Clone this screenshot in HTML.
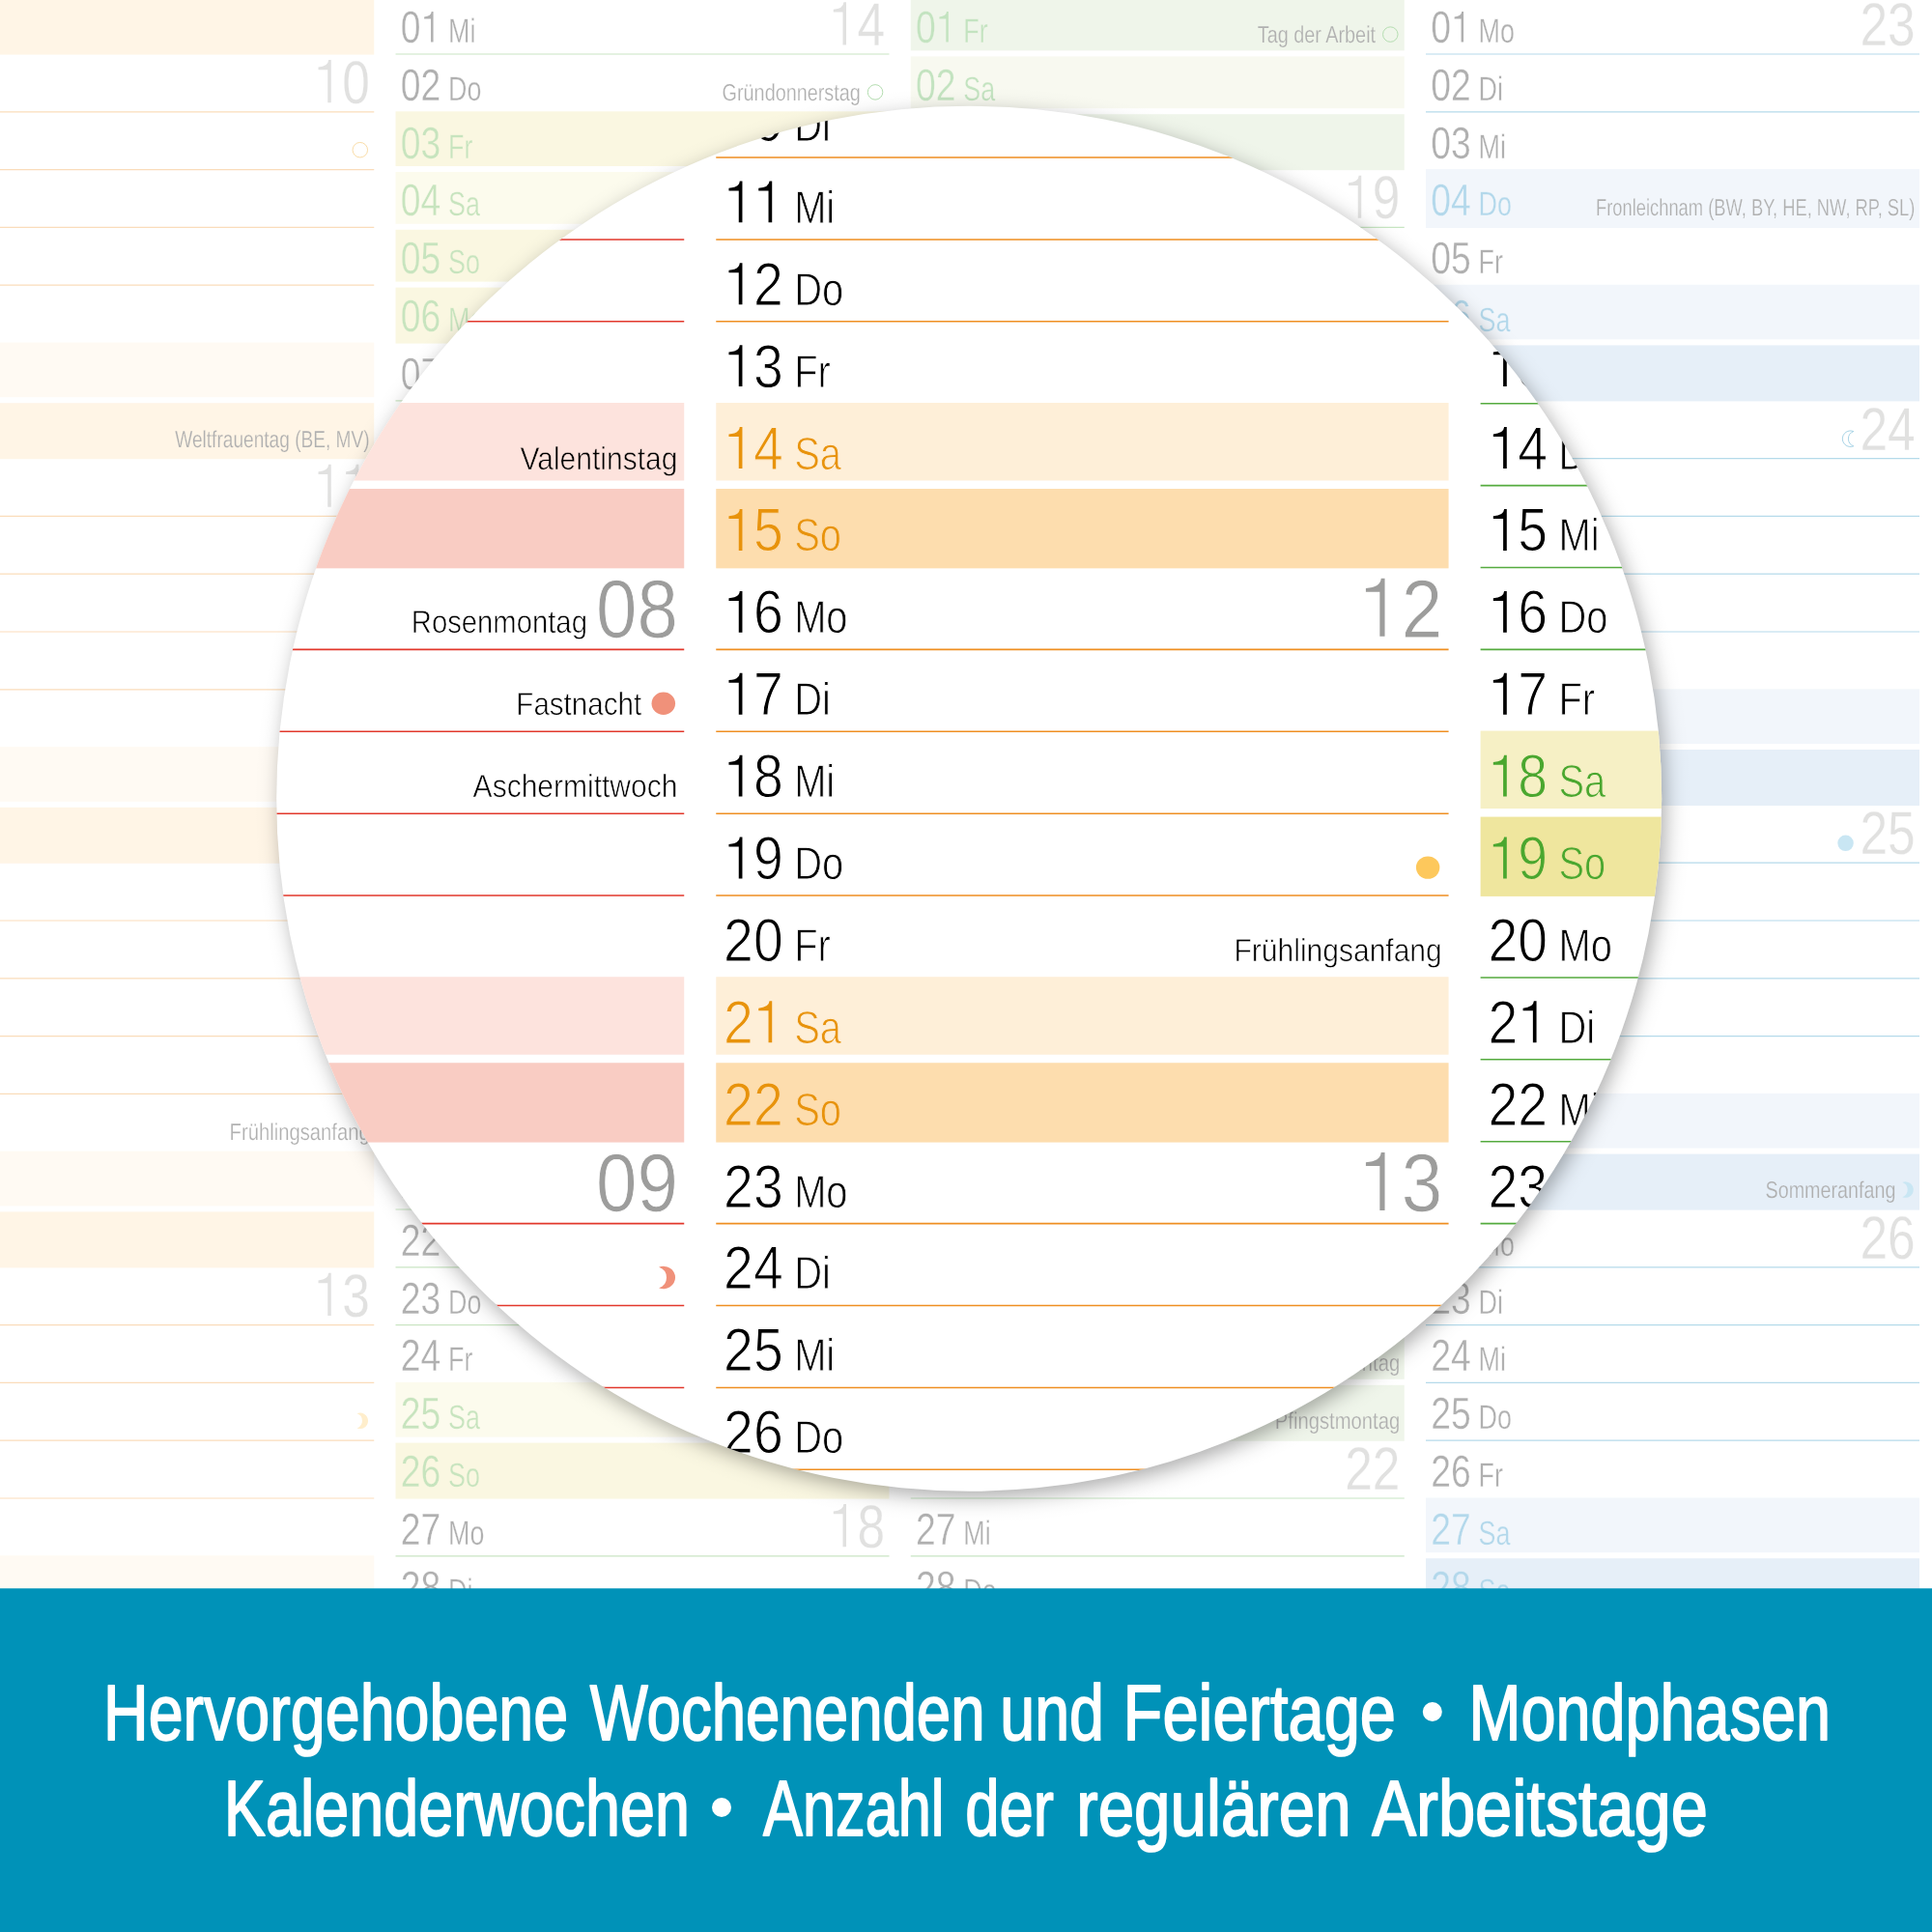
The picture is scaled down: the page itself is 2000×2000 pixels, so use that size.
<!DOCTYPE html>
<html lang="de"><head><meta charset="utf-8"><title>Kalender</title>
<style>
html,body{margin:0;padding:0;background:#fff;width:2000px;height:2000px;overflow:hidden}
svg{display:block;will-change:transform}
text{font-family:"Liberation Sans",sans-serif;text-rendering:geometricPrecision}
</style></head><body>
<svg width="2000" height="2000" viewBox="0 0 2000 2000">
<defs>
<clipPath id="lens"><circle cx="1003.2" cy="826.8" r="717"/></clipPath>
<radialGradient id="shad" cx="0.5" cy="0.5" r="0.5"><stop offset="0" stop-color="#000" stop-opacity="0.32"/><stop offset="0.8943" stop-color="#000" stop-opacity="0.3200"/><stop offset="0.9009" stop-color="#000" stop-opacity="0.3199"/><stop offset="0.9075" stop-color="#000" stop-opacity="0.3196"/><stop offset="0.9141" stop-color="#000" stop-opacity="0.3180"/><stop offset="0.9207" stop-color="#000" stop-opacity="0.3127"/><stop offset="0.9273" stop-color="#000" stop-opacity="0.2986"/><stop offset="0.9339" stop-color="#000" stop-opacity="0.2692"/><stop offset="0.9406" stop-color="#000" stop-opacity="0.2213"/><stop offset="0.9472" stop-color="#000" stop-opacity="0.1600"/><stop offset="0.9538" stop-color="#000" stop-opacity="0.0987"/><stop offset="0.9604" stop-color="#000" stop-opacity="0.0508"/><stop offset="0.9670" stop-color="#000" stop-opacity="0.0214"/><stop offset="0.9736" stop-color="#000" stop-opacity="0.0073"/><stop offset="0.9802" stop-color="#000" stop-opacity="0.0020"/><stop offset="0.9868" stop-color="#000" stop-opacity="0.0004"/><stop offset="0.9934" stop-color="#000" stop-opacity="0.0001"/><stop offset="1.0000" stop-color="#000" stop-opacity="0.0000"/></radialGradient>
</defs>
<rect width="2000" height="2000" fill="#fff"/>
<g>
<g>
<rect x="-123.75" y="-4.3" width="511" height="60.9" fill="#FDDDAE"/>
<rect x="-123.75" y="354.5" width="511" height="56.7" fill="#FEEFD8"/>
<rect x="-123.75" y="417.2" width="511" height="58" fill="#FDDDAE"/>
<rect x="-123.75" y="773.1" width="511" height="56.7" fill="#FEEFD8"/>
<rect x="-123.75" y="835.8" width="511" height="58" fill="#FDDDAE"/>
<rect x="-123.75" y="1191.7" width="511" height="56.7" fill="#FEEFD8"/>
<rect x="-123.75" y="1254.4" width="511" height="58" fill="#FDDDAE"/>
<rect x="-123.75" y="1610.3" width="511" height="56.7" fill="#FEEFD8"/>
<rect x="-123.75" y="1673" width="511" height="58" fill="#FDDDAE"/>
<path d="M-123.75 115.8h511M-123.75 175.6h511M-123.75 235.4h511M-123.75 295.2h511M-123.75 534.4h511M-123.75 594.2h511M-123.75 654h511M-123.75 713.8h511M-123.75 953h511M-123.75 1012.8h511M-123.75 1072.6h511M-123.75 1132.4h511M-123.75 1371.6h511M-123.75 1431.4h511M-123.75 1491.2h511M-123.75 1551h511" stroke="#EF8F22" stroke-width="1.2" fill="none"/>
<text transform="translate(-118.45 44) scale(0.802 1)" font-size="46.5" fill="#E8930C" stroke="#FDDDAE" stroke-width="0.36">0</text><path d="M-87.18 43.6L-84.69 43.6L-84.69 12.04L-86.52 12.04Q-86.78 16.9 -94.12 17.41L-94.12 19.4L-87.18 19.4Z" fill="#E8930C"/>
<text transform="translate(-69.25 44) scale(0.766 1)" font-size="35.11" fill="#E8930C" stroke="#FDDDAE" stroke-width="0.32">So</text>
<text transform="translate(-118.45 103.8) scale(0.802 1)" font-size="46.5" fill="#000" stroke="#fff" stroke-width="0.36">0</text><text transform="translate(-97.72 103.8) scale(0.802 1)" font-size="46.5" fill="#000" stroke="#fff" stroke-width="0.36">2</text>
<text transform="translate(-69.25 103.8) scale(0.766 1)" font-size="35.11" fill="#000" stroke="#fff" stroke-width="0.32">Mo</text>
<path d="M339.25 106.24L342.74 106.24L342.74 62.06L340.17 62.06Q339.81 68.86 329.53 69.58L329.53 72.36L339.25 72.36Z" fill="#9D9D9C"/><text transform="translate(354.35 106.8) scale(0.816 1)" font-size="63.01" fill="#9D9D9C" stroke="#fff" stroke-width="0.27">0</text>
<text transform="translate(-118.45 163.6) scale(0.802 1)" font-size="46.5" fill="#000" stroke="#fff" stroke-width="0.36">0</text><text transform="translate(-97.72 163.6) scale(0.802 1)" font-size="46.5" fill="#000" stroke="#fff" stroke-width="0.36">3</text>
<text transform="translate(-69.25 163.6) scale(0.766 1)" font-size="35.11" fill="#000" stroke="#fff" stroke-width="0.32">Di</text>
<text transform="translate(-118.45 223.4) scale(0.802 1)" font-size="46.5" fill="#000" stroke="#fff" stroke-width="0.36">0</text><text transform="translate(-97.72 223.4) scale(0.802 1)" font-size="46.5" fill="#000" stroke="#fff" stroke-width="0.36">4</text>
<text transform="translate(-69.25 223.4) scale(0.766 1)" font-size="35.11" fill="#000" stroke="#fff" stroke-width="0.32">Mi</text>
<text transform="translate(-118.45 283.2) scale(0.802 1)" font-size="46.5" fill="#000" stroke="#fff" stroke-width="0.36">0</text><text transform="translate(-97.72 283.2) scale(0.802 1)" font-size="46.5" fill="#000" stroke="#fff" stroke-width="0.36">5</text>
<text transform="translate(-69.25 283.2) scale(0.766 1)" font-size="35.11" fill="#000" stroke="#fff" stroke-width="0.32">Do</text>
<text transform="translate(-118.45 343) scale(0.802 1)" font-size="46.5" fill="#000" stroke="#fff" stroke-width="0.36">0</text><text transform="translate(-97.72 343) scale(0.802 1)" font-size="46.5" fill="#000" stroke="#fff" stroke-width="0.36">6</text>
<text transform="translate(-69.25 343) scale(0.766 1)" font-size="35.11" fill="#000" stroke="#fff" stroke-width="0.32">Fr</text>
<text transform="translate(-118.45 402.8) scale(0.802 1)" font-size="46.5" fill="#E8930C" stroke="#FEEFD8" stroke-width="0.36">0</text><text transform="translate(-97.72 402.8) scale(0.802 1)" font-size="46.5" fill="#E8930C" stroke="#FEEFD8" stroke-width="0.36">7</text>
<text transform="translate(-69.25 402.8) scale(0.766 1)" font-size="35.11" fill="#E8930C" stroke="#FEEFD8" stroke-width="0.32">Sa</text>
<text transform="translate(-118.45 462.6) scale(0.802 1)" font-size="46.5" fill="#E8930C" stroke="#FDDDAE" stroke-width="0.36">0</text><text transform="translate(-97.72 462.6) scale(0.802 1)" font-size="46.5" fill="#E8930C" stroke="#FDDDAE" stroke-width="0.36">8</text>
<text transform="translate(-69.25 462.6) scale(0.766 1)" font-size="35.11" fill="#E8930C" stroke="#FDDDAE" stroke-width="0.32">So</text>
<text transform="translate(382.65 462.6) scale(0.785 1)" font-size="24.35" fill="#000" text-anchor="end" stroke="#FDDDAE" stroke-width="0.2">Weltfrauentag (BE, MV)</text>
<text transform="translate(-118.45 522.4) scale(0.802 1)" font-size="46.5" fill="#000" stroke="#fff" stroke-width="0.36">0</text><text transform="translate(-97.72 522.4) scale(0.802 1)" font-size="46.5" fill="#000" stroke="#fff" stroke-width="0.36">9</text>
<text transform="translate(-69.25 522.4) scale(0.766 1)" font-size="35.11" fill="#000" stroke="#fff" stroke-width="0.32">Mo</text>
<path d="M339.25 524.84L342.74 524.84L342.74 480.66L340.17 480.66Q339.81 487.46 329.53 488.18L329.53 490.96L339.25 490.96Z" fill="#9D9D9C"/><path d="M367.85 524.84L371.33 524.84L371.33 480.66L368.77 480.66Q368.41 487.46 358.13 488.18L358.13 490.96L367.85 490.96Z" fill="#9D9D9C"/>
<path d="M-107.91 581.8L-105.42 581.8L-105.42 550.24L-107.25 550.24Q-107.51 555.1 -114.85 555.61L-114.85 557.6L-107.91 557.6Z" fill="#000"/><text transform="translate(-97.72 582.2) scale(0.802 1)" font-size="46.5" fill="#000" stroke="#fff" stroke-width="0.36">0</text>
<text transform="translate(-69.25 582.2) scale(0.766 1)" font-size="35.11" fill="#000" stroke="#fff" stroke-width="0.32">Di</text>
<path d="M-107.91 641.6L-105.42 641.6L-105.42 610.04L-107.25 610.04Q-107.51 614.9 -114.85 615.41L-114.85 617.4L-107.91 617.4Z" fill="#000"/><path d="M-87.18 641.6L-84.69 641.6L-84.69 610.04L-86.52 610.04Q-86.78 614.9 -94.12 615.41L-94.12 617.4L-87.18 617.4Z" fill="#000"/>
<text transform="translate(-69.25 642) scale(0.766 1)" font-size="35.11" fill="#000" stroke="#fff" stroke-width="0.32">Mi</text>
<path d="M-107.91 701.4L-105.42 701.4L-105.42 669.84L-107.25 669.84Q-107.51 674.7 -114.85 675.21L-114.85 677.2L-107.91 677.2Z" fill="#000"/><text transform="translate(-97.72 701.8) scale(0.802 1)" font-size="46.5" fill="#000" stroke="#fff" stroke-width="0.36">2</text>
<text transform="translate(-69.25 701.8) scale(0.766 1)" font-size="35.11" fill="#000" stroke="#fff" stroke-width="0.32">Do</text>
<path d="M-107.91 761.2L-105.42 761.2L-105.42 729.64L-107.25 729.64Q-107.51 734.5 -114.85 735.01L-114.85 737L-107.91 737Z" fill="#000"/><text transform="translate(-97.72 761.6) scale(0.802 1)" font-size="46.5" fill="#000" stroke="#fff" stroke-width="0.36">3</text>
<text transform="translate(-69.25 761.6) scale(0.766 1)" font-size="35.11" fill="#000" stroke="#fff" stroke-width="0.32">Fr</text>
<path d="M-107.91 821L-105.42 821L-105.42 789.44L-107.25 789.44Q-107.51 794.3 -114.85 794.81L-114.85 796.8L-107.91 796.8Z" fill="#E8930C"/><text transform="translate(-97.72 821.4) scale(0.802 1)" font-size="46.5" fill="#E8930C" stroke="#FEEFD8" stroke-width="0.36">4</text>
<text transform="translate(-69.25 821.4) scale(0.766 1)" font-size="35.11" fill="#E8930C" stroke="#FEEFD8" stroke-width="0.32">Sa</text>
<path d="M-107.91 880.8L-105.42 880.8L-105.42 849.24L-107.25 849.24Q-107.51 854.1 -114.85 854.61L-114.85 856.6L-107.91 856.6Z" fill="#E8930C"/><text transform="translate(-97.72 881.2) scale(0.802 1)" font-size="46.5" fill="#E8930C" stroke="#FDDDAE" stroke-width="0.36">5</text>
<text transform="translate(-69.25 881.2) scale(0.766 1)" font-size="35.11" fill="#E8930C" stroke="#FDDDAE" stroke-width="0.32">So</text>
<path d="M-107.91 940.6L-105.42 940.6L-105.42 909.04L-107.25 909.04Q-107.51 913.9 -114.85 914.41L-114.85 916.4L-107.91 916.4Z" fill="#000"/><text transform="translate(-97.72 941) scale(0.802 1)" font-size="46.5" fill="#000" stroke="#fff" stroke-width="0.36">6</text>
<text transform="translate(-69.25 941) scale(0.766 1)" font-size="35.11" fill="#000" stroke="#fff" stroke-width="0.32">Mo</text>
<path d="M339.25 943.44L342.74 943.44L342.74 899.26L340.17 899.26Q339.81 906.06 329.53 906.78L329.53 909.56L339.25 909.56Z" fill="#9D9D9C"/><text transform="translate(354.35 944) scale(0.816 1)" font-size="63.01" fill="#9D9D9C" stroke="#fff" stroke-width="0.27">2</text>
<path d="M-107.91 1000.4L-105.42 1000.4L-105.42 968.84L-107.25 968.84Q-107.51 973.7 -114.85 974.21L-114.85 976.2L-107.91 976.2Z" fill="#000"/><text transform="translate(-97.72 1000.8) scale(0.802 1)" font-size="46.5" fill="#000" stroke="#fff" stroke-width="0.36">7</text>
<text transform="translate(-69.25 1000.8) scale(0.766 1)" font-size="35.11" fill="#000" stroke="#fff" stroke-width="0.32">Di</text>
<path d="M-107.91 1060.2L-105.42 1060.2L-105.42 1028.64L-107.25 1028.64Q-107.51 1033.5 -114.85 1034.01L-114.85 1036L-107.91 1036Z" fill="#000"/><text transform="translate(-97.72 1060.6) scale(0.802 1)" font-size="46.5" fill="#000" stroke="#fff" stroke-width="0.36">8</text>
<text transform="translate(-69.25 1060.6) scale(0.766 1)" font-size="35.11" fill="#000" stroke="#fff" stroke-width="0.32">Mi</text>
<path d="M-107.91 1120L-105.42 1120L-105.42 1088.44L-107.25 1088.44Q-107.51 1093.3 -114.85 1093.81L-114.85 1095.8L-107.91 1095.8Z" fill="#000"/><text transform="translate(-97.72 1120.4) scale(0.802 1)" font-size="46.5" fill="#000" stroke="#fff" stroke-width="0.36">9</text>
<text transform="translate(-69.25 1120.4) scale(0.766 1)" font-size="35.11" fill="#000" stroke="#fff" stroke-width="0.32">Do</text>
<text transform="translate(-118.45 1180.2) scale(0.802 1)" font-size="46.5" fill="#000" stroke="#fff" stroke-width="0.36">2</text><text transform="translate(-97.72 1180.2) scale(0.802 1)" font-size="46.5" fill="#000" stroke="#fff" stroke-width="0.36">0</text>
<text transform="translate(-69.25 1180.2) scale(0.766 1)" font-size="35.11" fill="#000" stroke="#fff" stroke-width="0.32">Fr</text>
<text transform="translate(382.65 1180.2) scale(0.831 1)" font-size="24.35" fill="#000" text-anchor="end" stroke="#fff" stroke-width="0.2">Frühlingsanfang</text>
<text transform="translate(-118.45 1240) scale(0.802 1)" font-size="46.5" fill="#E8930C" stroke="#FEEFD8" stroke-width="0.36">2</text><path d="M-87.18 1239.6L-84.69 1239.6L-84.69 1208.04L-86.52 1208.04Q-86.78 1212.9 -94.12 1213.41L-94.12 1215.4L-87.18 1215.4Z" fill="#E8930C"/>
<text transform="translate(-69.25 1240) scale(0.766 1)" font-size="35.11" fill="#E8930C" stroke="#FEEFD8" stroke-width="0.32">Sa</text>
<text transform="translate(-118.45 1299.8) scale(0.802 1)" font-size="46.5" fill="#E8930C" stroke="#FDDDAE" stroke-width="0.36">2</text><text transform="translate(-97.72 1299.8) scale(0.802 1)" font-size="46.5" fill="#E8930C" stroke="#FDDDAE" stroke-width="0.36">2</text>
<text transform="translate(-69.25 1299.8) scale(0.766 1)" font-size="35.11" fill="#E8930C" stroke="#FDDDAE" stroke-width="0.32">So</text>
<text transform="translate(-118.45 1359.6) scale(0.802 1)" font-size="46.5" fill="#000" stroke="#fff" stroke-width="0.36">2</text><text transform="translate(-97.72 1359.6) scale(0.802 1)" font-size="46.5" fill="#000" stroke="#fff" stroke-width="0.36">3</text>
<text transform="translate(-69.25 1359.6) scale(0.766 1)" font-size="35.11" fill="#000" stroke="#fff" stroke-width="0.32">Mo</text>
<path d="M339.25 1362.04L342.74 1362.04L342.74 1317.86L340.17 1317.86Q339.81 1324.66 329.53 1325.38L329.53 1328.16L339.25 1328.16Z" fill="#9D9D9C"/><text transform="translate(354.35 1362.6) scale(0.816 1)" font-size="63.01" fill="#9D9D9C" stroke="#fff" stroke-width="0.27">3</text>
<text transform="translate(-118.45 1419.4) scale(0.802 1)" font-size="46.5" fill="#000" stroke="#fff" stroke-width="0.36">2</text><text transform="translate(-97.72 1419.4) scale(0.802 1)" font-size="46.5" fill="#000" stroke="#fff" stroke-width="0.36">4</text>
<text transform="translate(-69.25 1419.4) scale(0.766 1)" font-size="35.11" fill="#000" stroke="#fff" stroke-width="0.32">Di</text>
<text transform="translate(-118.45 1479.2) scale(0.802 1)" font-size="46.5" fill="#000" stroke="#fff" stroke-width="0.36">2</text><text transform="translate(-97.72 1479.2) scale(0.802 1)" font-size="46.5" fill="#000" stroke="#fff" stroke-width="0.36">5</text>
<text transform="translate(-69.25 1479.2) scale(0.766 1)" font-size="35.11" fill="#000" stroke="#fff" stroke-width="0.32">Mi</text>
<text transform="translate(-118.45 1539) scale(0.802 1)" font-size="46.5" fill="#000" stroke="#fff" stroke-width="0.36">2</text><text transform="translate(-97.72 1539) scale(0.802 1)" font-size="46.5" fill="#000" stroke="#fff" stroke-width="0.36">6</text>
<text transform="translate(-69.25 1539) scale(0.766 1)" font-size="35.11" fill="#000" stroke="#fff" stroke-width="0.32">Do</text>
<text transform="translate(-118.45 1598.8) scale(0.802 1)" font-size="46.5" fill="#000" stroke="#fff" stroke-width="0.36">2</text><text transform="translate(-97.72 1598.8) scale(0.802 1)" font-size="46.5" fill="#000" stroke="#fff" stroke-width="0.36">7</text>
<text transform="translate(-69.25 1598.8) scale(0.766 1)" font-size="35.11" fill="#000" stroke="#fff" stroke-width="0.32">Fr</text>
<text transform="translate(-118.45 1658.6) scale(0.802 1)" font-size="46.5" fill="#E8930C" stroke="#FEEFD8" stroke-width="0.36">2</text><text transform="translate(-97.72 1658.6) scale(0.802 1)" font-size="46.5" fill="#E8930C" stroke="#FEEFD8" stroke-width="0.36">8</text>
<text transform="translate(-69.25 1658.6) scale(0.766 1)" font-size="35.11" fill="#E8930C" stroke="#FEEFD8" stroke-width="0.32">Sa</text>
<text transform="translate(-118.45 1718.4) scale(0.802 1)" font-size="46.5" fill="#E8930C" stroke="#FDDDAE" stroke-width="0.36">2</text><text transform="translate(-97.72 1718.4) scale(0.802 1)" font-size="46.5" fill="#E8930C" stroke="#FDDDAE" stroke-width="0.36">9</text>
<text transform="translate(-69.25 1718.4) scale(0.766 1)" font-size="35.11" fill="#E8930C" stroke="#FDDDAE" stroke-width="0.32">So</text>
<text transform="translate(382.65 1718.4) scale(0.831 1)" font-size="24.35" fill="#000" text-anchor="end" stroke="#FDDDAE" stroke-width="0.2">Beginn der Sommerzeit</text>
<circle cx="372.8" cy="1112" r="8.25" fill="#FDC85C"/>
<path d="M369.6 1463.2A8.25 8.25 0 1 1 369.6 1478.4A8.07 8.07 0 0 0 369.6 1463.2Z" fill="#FDC85C"/>
</g>
<g>
<rect x="409.5" y="115.3" width="511" height="56.7" fill="#EFE69E"/>
<rect x="409.5" y="178" width="511" height="53.8" fill="#F6F0C5"/>
<rect x="409.5" y="237.8" width="511" height="53.8" fill="#EFE69E"/>
<rect x="409.5" y="297.6" width="511" height="58" fill="#EFE69E"/>
<rect x="409.5" y="593.7" width="511" height="56.7" fill="#F6F0C5"/>
<rect x="409.5" y="656.4" width="511" height="58" fill="#EFE69E"/>
<rect x="409.5" y="1012.3" width="511" height="56.7" fill="#F6F0C5"/>
<rect x="409.5" y="1075" width="511" height="58" fill="#EFE69E"/>
<rect x="409.5" y="1430.9" width="511" height="56.7" fill="#F6F0C5"/>
<rect x="409.5" y="1493.6" width="511" height="58" fill="#EFE69E"/>
<path d="M409.5 56h511M409.5 414.8h511M409.5 474.6h511M409.5 534.4h511M409.5 773.6h511M409.5 833.4h511M409.5 893.2h511M409.5 953h511M409.5 1192.2h511M409.5 1252h511M409.5 1311.8h511M409.5 1371.6h511M409.5 1610.8h511M409.5 1670.6h511M409.5 1730.4h511" stroke="#55AB3F" stroke-width="1.2" fill="none"/>
<text transform="translate(414.8 44) scale(0.802 1)" font-size="46.5" fill="#000" stroke="#fff" stroke-width="0.36">0</text><path d="M446.07 43.6L448.56 43.6L448.56 12.04L446.73 12.04Q446.47 16.9 439.13 17.41L439.13 19.4L446.07 19.4Z" fill="#000"/>
<text transform="translate(464 44) scale(0.766 1)" font-size="35.11" fill="#000" stroke="#fff" stroke-width="0.32">Mi</text>
<path d="M872.5 46.44L875.99 46.44L875.99 2.26L873.42 2.26Q873.06 9.06 862.78 9.78L862.78 12.56L872.5 12.56Z" fill="#9D9D9C"/><text transform="translate(887.6 47) scale(0.816 1)" font-size="63.01" fill="#9D9D9C" stroke="#fff" stroke-width="0.27">4</text>
<text transform="translate(414.8 103.8) scale(0.802 1)" font-size="46.5" fill="#000" stroke="#fff" stroke-width="0.36">0</text><text transform="translate(435.53 103.8) scale(0.802 1)" font-size="46.5" fill="#000" stroke="#fff" stroke-width="0.36">2</text>
<text transform="translate(464 103.8) scale(0.766 1)" font-size="35.11" fill="#000" stroke="#fff" stroke-width="0.32">Do</text>
<text transform="translate(890.8 103.8) scale(0.814 1)" font-size="24.35" fill="#000" text-anchor="end" stroke="#fff" stroke-width="0.2">Gründonnerstag</text>
<text transform="translate(414.8 163.6) scale(0.802 1)" font-size="46.5" fill="#4AA72F" stroke="#EFE69E" stroke-width="0.36">0</text><text transform="translate(435.53 163.6) scale(0.802 1)" font-size="46.5" fill="#4AA72F" stroke="#EFE69E" stroke-width="0.36">3</text>
<text transform="translate(464 163.6) scale(0.766 1)" font-size="35.11" fill="#4AA72F" stroke="#EFE69E" stroke-width="0.32">Fr</text>
<text transform="translate(915.9 163.6) scale(0.831 1)" font-size="24.35" fill="#000" text-anchor="end" stroke="#EFE69E" stroke-width="0.2">Karfreitag</text>
<text transform="translate(414.8 223.4) scale(0.802 1)" font-size="46.5" fill="#4AA72F" stroke="#F6F0C5" stroke-width="0.36">0</text><text transform="translate(435.53 223.4) scale(0.802 1)" font-size="46.5" fill="#4AA72F" stroke="#F6F0C5" stroke-width="0.36">4</text>
<text transform="translate(464 223.4) scale(0.766 1)" font-size="35.11" fill="#4AA72F" stroke="#F6F0C5" stroke-width="0.32">Sa</text>
<text transform="translate(414.8 283.2) scale(0.802 1)" font-size="46.5" fill="#4AA72F" stroke="#EFE69E" stroke-width="0.36">0</text><text transform="translate(435.53 283.2) scale(0.802 1)" font-size="46.5" fill="#4AA72F" stroke="#EFE69E" stroke-width="0.36">5</text>
<text transform="translate(464 283.2) scale(0.766 1)" font-size="35.11" fill="#4AA72F" stroke="#EFE69E" stroke-width="0.32">So</text>
<text transform="translate(915.9 283.2) scale(0.831 1)" font-size="24.35" fill="#000" text-anchor="end" stroke="#EFE69E" stroke-width="0.2">Ostersonntag</text>
<text transform="translate(414.8 343) scale(0.802 1)" font-size="46.5" fill="#4AA72F" stroke="#EFE69E" stroke-width="0.36">0</text><text transform="translate(435.53 343) scale(0.802 1)" font-size="46.5" fill="#4AA72F" stroke="#EFE69E" stroke-width="0.36">6</text>
<text transform="translate(464 343) scale(0.766 1)" font-size="35.11" fill="#4AA72F" stroke="#EFE69E" stroke-width="0.32">Mo</text>
<text transform="translate(915.9 343) scale(0.831 1)" font-size="24.35" fill="#000" text-anchor="end" stroke="#EFE69E" stroke-width="0.2">Ostermontag</text>
<text transform="translate(414.8 402.8) scale(0.802 1)" font-size="46.5" fill="#000" stroke="#fff" stroke-width="0.36">0</text><text transform="translate(435.53 402.8) scale(0.802 1)" font-size="46.5" fill="#000" stroke="#fff" stroke-width="0.36">7</text>
<text transform="translate(464 402.8) scale(0.766 1)" font-size="35.11" fill="#000" stroke="#fff" stroke-width="0.32">Di</text>
<path d="M872.5 405.24L875.99 405.24L875.99 361.06L873.42 361.06Q873.06 367.86 862.78 368.58L862.78 371.36L872.5 371.36Z" fill="#9D9D9C"/><text transform="translate(887.6 405.8) scale(0.816 1)" font-size="63.01" fill="#9D9D9C" stroke="#fff" stroke-width="0.27">5</text>
<text transform="translate(414.8 462.6) scale(0.802 1)" font-size="46.5" fill="#000" stroke="#fff" stroke-width="0.36">0</text><text transform="translate(435.53 462.6) scale(0.802 1)" font-size="46.5" fill="#000" stroke="#fff" stroke-width="0.36">8</text>
<text transform="translate(464 462.6) scale(0.766 1)" font-size="35.11" fill="#000" stroke="#fff" stroke-width="0.32">Mi</text>
<text transform="translate(414.8 522.4) scale(0.802 1)" font-size="46.5" fill="#000" stroke="#fff" stroke-width="0.36">0</text><text transform="translate(435.53 522.4) scale(0.802 1)" font-size="46.5" fill="#000" stroke="#fff" stroke-width="0.36">9</text>
<text transform="translate(464 522.4) scale(0.766 1)" font-size="35.11" fill="#000" stroke="#fff" stroke-width="0.32">Do</text>
<path d="M425.34 581.8L427.83 581.8L427.83 550.24L426 550.24Q425.74 555.1 418.4 555.61L418.4 557.6L425.34 557.6Z" fill="#000"/><text transform="translate(435.53 582.2) scale(0.802 1)" font-size="46.5" fill="#000" stroke="#fff" stroke-width="0.36">0</text>
<text transform="translate(464 582.2) scale(0.766 1)" font-size="35.11" fill="#000" stroke="#fff" stroke-width="0.32">Fr</text>
<path d="M425.34 641.6L427.83 641.6L427.83 610.04L426 610.04Q425.74 614.9 418.4 615.41L418.4 617.4L425.34 617.4Z" fill="#4AA72F"/><path d="M446.07 641.6L448.56 641.6L448.56 610.04L446.73 610.04Q446.47 614.9 439.13 615.41L439.13 617.4L446.07 617.4Z" fill="#4AA72F"/>
<text transform="translate(464 642) scale(0.766 1)" font-size="35.11" fill="#4AA72F" stroke="#F6F0C5" stroke-width="0.32">Sa</text>
<path d="M425.34 701.4L427.83 701.4L427.83 669.84L426 669.84Q425.74 674.7 418.4 675.21L418.4 677.2L425.34 677.2Z" fill="#4AA72F"/><text transform="translate(435.53 701.8) scale(0.802 1)" font-size="46.5" fill="#4AA72F" stroke="#EFE69E" stroke-width="0.36">2</text>
<text transform="translate(464 701.8) scale(0.766 1)" font-size="35.11" fill="#4AA72F" stroke="#EFE69E" stroke-width="0.32">So</text>
<path d="M425.34 761.2L427.83 761.2L427.83 729.64L426 729.64Q425.74 734.5 418.4 735.01L418.4 737L425.34 737Z" fill="#000"/><text transform="translate(435.53 761.6) scale(0.802 1)" font-size="46.5" fill="#000" stroke="#fff" stroke-width="0.36">3</text>
<text transform="translate(464 761.6) scale(0.766 1)" font-size="35.11" fill="#000" stroke="#fff" stroke-width="0.32">Mo</text>
<path d="M872.5 764.04L875.99 764.04L875.99 719.86L873.42 719.86Q873.06 726.66 862.78 727.38L862.78 730.16L872.5 730.16Z" fill="#9D9D9C"/><text transform="translate(887.6 764.6) scale(0.816 1)" font-size="63.01" fill="#9D9D9C" stroke="#fff" stroke-width="0.27">6</text>
<path d="M425.34 821L427.83 821L427.83 789.44L426 789.44Q425.74 794.3 418.4 794.81L418.4 796.8L425.34 796.8Z" fill="#000"/><text transform="translate(435.53 821.4) scale(0.802 1)" font-size="46.5" fill="#000" stroke="#fff" stroke-width="0.36">4</text>
<text transform="translate(464 821.4) scale(0.766 1)" font-size="35.11" fill="#000" stroke="#fff" stroke-width="0.32">Di</text>
<path d="M425.34 880.8L427.83 880.8L427.83 849.24L426 849.24Q425.74 854.1 418.4 854.61L418.4 856.6L425.34 856.6Z" fill="#000"/><text transform="translate(435.53 881.2) scale(0.802 1)" font-size="46.5" fill="#000" stroke="#fff" stroke-width="0.36">5</text>
<text transform="translate(464 881.2) scale(0.766 1)" font-size="35.11" fill="#000" stroke="#fff" stroke-width="0.32">Mi</text>
<path d="M425.34 940.6L427.83 940.6L427.83 909.04L426 909.04Q425.74 913.9 418.4 914.41L418.4 916.4L425.34 916.4Z" fill="#000"/><text transform="translate(435.53 941) scale(0.802 1)" font-size="46.5" fill="#000" stroke="#fff" stroke-width="0.36">6</text>
<text transform="translate(464 941) scale(0.766 1)" font-size="35.11" fill="#000" stroke="#fff" stroke-width="0.32">Do</text>
<path d="M425.34 1000.4L427.83 1000.4L427.83 968.84L426 968.84Q425.74 973.7 418.4 974.21L418.4 976.2L425.34 976.2Z" fill="#000"/><text transform="translate(435.53 1000.8) scale(0.802 1)" font-size="46.5" fill="#000" stroke="#fff" stroke-width="0.36">7</text>
<text transform="translate(464 1000.8) scale(0.766 1)" font-size="35.11" fill="#000" stroke="#fff" stroke-width="0.32">Fr</text>
<path d="M425.34 1060.2L427.83 1060.2L427.83 1028.64L426 1028.64Q425.74 1033.5 418.4 1034.01L418.4 1036L425.34 1036Z" fill="#4AA72F"/><text transform="translate(435.53 1060.6) scale(0.802 1)" font-size="46.5" fill="#4AA72F" stroke="#F6F0C5" stroke-width="0.36">8</text>
<text transform="translate(464 1060.6) scale(0.766 1)" font-size="35.11" fill="#4AA72F" stroke="#F6F0C5" stroke-width="0.32">Sa</text>
<path d="M425.34 1120L427.83 1120L427.83 1088.44L426 1088.44Q425.74 1093.3 418.4 1093.81L418.4 1095.8L425.34 1095.8Z" fill="#4AA72F"/><text transform="translate(435.53 1120.4) scale(0.802 1)" font-size="46.5" fill="#4AA72F" stroke="#EFE69E" stroke-width="0.36">9</text>
<text transform="translate(464 1120.4) scale(0.766 1)" font-size="35.11" fill="#4AA72F" stroke="#EFE69E" stroke-width="0.32">So</text>
<text transform="translate(414.8 1180.2) scale(0.802 1)" font-size="46.5" fill="#000" stroke="#fff" stroke-width="0.36">2</text><text transform="translate(435.53 1180.2) scale(0.802 1)" font-size="46.5" fill="#000" stroke="#fff" stroke-width="0.36">0</text>
<text transform="translate(464 1180.2) scale(0.766 1)" font-size="35.11" fill="#000" stroke="#fff" stroke-width="0.32">Mo</text>
<path d="M872.5 1182.64L875.99 1182.64L875.99 1138.46L873.42 1138.46Q873.06 1145.26 862.78 1145.98L862.78 1148.76L872.5 1148.76Z" fill="#9D9D9C"/><text transform="translate(887.6 1183.2) scale(0.816 1)" font-size="63.01" fill="#9D9D9C" stroke="#fff" stroke-width="0.27">7</text>
<text transform="translate(414.8 1240) scale(0.802 1)" font-size="46.5" fill="#000" stroke="#fff" stroke-width="0.36">2</text><path d="M446.07 1239.6L448.56 1239.6L448.56 1208.04L446.73 1208.04Q446.47 1212.9 439.13 1213.41L439.13 1215.4L446.07 1215.4Z" fill="#000"/>
<text transform="translate(464 1240) scale(0.766 1)" font-size="35.11" fill="#000" stroke="#fff" stroke-width="0.32">Di</text>
<text transform="translate(414.8 1299.8) scale(0.802 1)" font-size="46.5" fill="#000" stroke="#fff" stroke-width="0.36">2</text><text transform="translate(435.53 1299.8) scale(0.802 1)" font-size="46.5" fill="#000" stroke="#fff" stroke-width="0.36">2</text>
<text transform="translate(464 1299.8) scale(0.766 1)" font-size="35.11" fill="#000" stroke="#fff" stroke-width="0.32">Mi</text>
<text transform="translate(414.8 1359.6) scale(0.802 1)" font-size="46.5" fill="#000" stroke="#fff" stroke-width="0.36">2</text><text transform="translate(435.53 1359.6) scale(0.802 1)" font-size="46.5" fill="#000" stroke="#fff" stroke-width="0.36">3</text>
<text transform="translate(464 1359.6) scale(0.766 1)" font-size="35.11" fill="#000" stroke="#fff" stroke-width="0.32">Do</text>
<text transform="translate(414.8 1419.4) scale(0.802 1)" font-size="46.5" fill="#000" stroke="#fff" stroke-width="0.36">2</text><text transform="translate(435.53 1419.4) scale(0.802 1)" font-size="46.5" fill="#000" stroke="#fff" stroke-width="0.36">4</text>
<text transform="translate(464 1419.4) scale(0.766 1)" font-size="35.11" fill="#000" stroke="#fff" stroke-width="0.32">Fr</text>
<text transform="translate(414.8 1479.2) scale(0.802 1)" font-size="46.5" fill="#4AA72F" stroke="#F6F0C5" stroke-width="0.36">2</text><text transform="translate(435.53 1479.2) scale(0.802 1)" font-size="46.5" fill="#4AA72F" stroke="#F6F0C5" stroke-width="0.36">5</text>
<text transform="translate(464 1479.2) scale(0.766 1)" font-size="35.11" fill="#4AA72F" stroke="#F6F0C5" stroke-width="0.32">Sa</text>
<text transform="translate(414.8 1539) scale(0.802 1)" font-size="46.5" fill="#4AA72F" stroke="#EFE69E" stroke-width="0.36">2</text><text transform="translate(435.53 1539) scale(0.802 1)" font-size="46.5" fill="#4AA72F" stroke="#EFE69E" stroke-width="0.36">6</text>
<text transform="translate(464 1539) scale(0.766 1)" font-size="35.11" fill="#4AA72F" stroke="#EFE69E" stroke-width="0.32">So</text>
<text transform="translate(414.8 1598.8) scale(0.802 1)" font-size="46.5" fill="#000" stroke="#fff" stroke-width="0.36">2</text><text transform="translate(435.53 1598.8) scale(0.802 1)" font-size="46.5" fill="#000" stroke="#fff" stroke-width="0.36">7</text>
<text transform="translate(464 1598.8) scale(0.766 1)" font-size="35.11" fill="#000" stroke="#fff" stroke-width="0.32">Mo</text>
<path d="M872.5 1601.24L875.99 1601.24L875.99 1557.06L873.42 1557.06Q873.06 1563.86 862.78 1564.58L862.78 1567.36L872.5 1567.36Z" fill="#9D9D9C"/><text transform="translate(887.6 1601.8) scale(0.816 1)" font-size="63.01" fill="#9D9D9C" stroke="#fff" stroke-width="0.27">8</text>
<text transform="translate(414.8 1658.6) scale(0.802 1)" font-size="46.5" fill="#000" stroke="#fff" stroke-width="0.36">2</text><text transform="translate(435.53 1658.6) scale(0.802 1)" font-size="46.5" fill="#000" stroke="#fff" stroke-width="0.36">8</text>
<text transform="translate(464 1658.6) scale(0.766 1)" font-size="35.11" fill="#000" stroke="#fff" stroke-width="0.32">Di</text>
<text transform="translate(414.8 1718.4) scale(0.802 1)" font-size="46.5" fill="#000" stroke="#fff" stroke-width="0.36">2</text><text transform="translate(435.53 1718.4) scale(0.802 1)" font-size="46.5" fill="#000" stroke="#fff" stroke-width="0.36">9</text>
<text transform="translate(464 1718.4) scale(0.766 1)" font-size="35.11" fill="#000" stroke="#fff" stroke-width="0.32">Mi</text>
<circle cx="906.05" cy="992.4" r="8.25" fill="#6CB85A"/>
<path d="M902.85 1403.4A8.25 8.25 0 1 1 902.85 1418.6A8.07 8.07 0 0 0 902.85 1403.4Z" fill="#6CB85A"/>
</g>
<g>
<rect x="942.75" y="-4.3" width="511" height="56.7" fill="#CCDFBB"/>
<rect x="942.75" y="58.4" width="511" height="53.8" fill="#E9ECCF"/>
<rect x="942.75" y="118.2" width="511" height="58" fill="#CCDFBB"/>
<rect x="942.75" y="474.1" width="511" height="56.7" fill="#E9ECCF"/>
<rect x="942.75" y="536.8" width="511" height="58" fill="#CCDFBB"/>
<rect x="942.75" y="773.1" width="511" height="60.9" fill="#CCDFBB"/>
<rect x="942.75" y="892.7" width="511" height="56.7" fill="#E9ECCF"/>
<rect x="942.75" y="955.4" width="511" height="58" fill="#CCDFBB"/>
<rect x="942.75" y="1311.3" width="511" height="56.7" fill="#E9ECCF"/>
<rect x="942.75" y="1374" width="511" height="53.8" fill="#CCDFBB"/>
<rect x="942.75" y="1433.8" width="511" height="58" fill="#CCDFBB"/>
<path d="M942.75 235.4h511M942.75 295.2h511M942.75 355h511M942.75 414.8h511M942.75 654h511M942.75 713.8h511M942.75 1072.6h511M942.75 1132.4h511M942.75 1192.2h511M942.75 1252h511M942.75 1551h511M942.75 1610.8h511M942.75 1670.6h511" stroke="#4BAA3C" stroke-width="1.2" fill="none"/>
<text transform="translate(948.05 44) scale(0.802 1)" font-size="46.5" fill="#3FA535" stroke="#CCDFBB" stroke-width="0.36">0</text><path d="M979.32 43.6L981.81 43.6L981.81 12.04L979.98 12.04Q979.72 16.9 972.38 17.41L972.38 19.4L979.32 19.4Z" fill="#3FA535"/>
<text transform="translate(997.25 44) scale(0.766 1)" font-size="35.11" fill="#3FA535" stroke="#CCDFBB" stroke-width="0.32">Fr</text>
<text transform="translate(1424.05 44) scale(0.814 1)" font-size="24.35" fill="#000" text-anchor="end" stroke="#CCDFBB" stroke-width="0.2">Tag der Arbeit</text>
<text transform="translate(948.05 103.8) scale(0.802 1)" font-size="46.5" fill="#3FA535" stroke="#E9ECCF" stroke-width="0.36">0</text><text transform="translate(968.78 103.8) scale(0.802 1)" font-size="46.5" fill="#3FA535" stroke="#E9ECCF" stroke-width="0.36">2</text>
<text transform="translate(997.25 103.8) scale(0.766 1)" font-size="35.11" fill="#3FA535" stroke="#E9ECCF" stroke-width="0.32">Sa</text>
<text transform="translate(948.05 163.6) scale(0.802 1)" font-size="46.5" fill="#3FA535" stroke="#CCDFBB" stroke-width="0.36">0</text><text transform="translate(968.78 163.6) scale(0.802 1)" font-size="46.5" fill="#3FA535" stroke="#CCDFBB" stroke-width="0.36">3</text>
<text transform="translate(997.25 163.6) scale(0.766 1)" font-size="35.11" fill="#3FA535" stroke="#CCDFBB" stroke-width="0.32">So</text>
<text transform="translate(948.05 223.4) scale(0.802 1)" font-size="46.5" fill="#000" stroke="#fff" stroke-width="0.36">0</text><text transform="translate(968.78 223.4) scale(0.802 1)" font-size="46.5" fill="#000" stroke="#fff" stroke-width="0.36">4</text>
<text transform="translate(997.25 223.4) scale(0.766 1)" font-size="35.11" fill="#000" stroke="#fff" stroke-width="0.32">Mo</text>
<path d="M1405.75 225.84L1409.24 225.84L1409.24 181.66L1406.67 181.66Q1406.31 188.46 1396.03 189.18L1396.03 191.96L1405.75 191.96Z" fill="#9D9D9C"/><text transform="translate(1420.85 226.4) scale(0.816 1)" font-size="63.01" fill="#9D9D9C" stroke="#fff" stroke-width="0.27">9</text>
<text transform="translate(948.05 283.2) scale(0.802 1)" font-size="46.5" fill="#000" stroke="#fff" stroke-width="0.36">0</text><text transform="translate(968.78 283.2) scale(0.802 1)" font-size="46.5" fill="#000" stroke="#fff" stroke-width="0.36">5</text>
<text transform="translate(997.25 283.2) scale(0.766 1)" font-size="35.11" fill="#000" stroke="#fff" stroke-width="0.32">Di</text>
<text transform="translate(948.05 343) scale(0.802 1)" font-size="46.5" fill="#000" stroke="#fff" stroke-width="0.36">0</text><text transform="translate(968.78 343) scale(0.802 1)" font-size="46.5" fill="#000" stroke="#fff" stroke-width="0.36">6</text>
<text transform="translate(997.25 343) scale(0.766 1)" font-size="35.11" fill="#000" stroke="#fff" stroke-width="0.32">Mi</text>
<text transform="translate(948.05 402.8) scale(0.802 1)" font-size="46.5" fill="#000" stroke="#fff" stroke-width="0.36">0</text><text transform="translate(968.78 402.8) scale(0.802 1)" font-size="46.5" fill="#000" stroke="#fff" stroke-width="0.36">7</text>
<text transform="translate(997.25 402.8) scale(0.766 1)" font-size="35.11" fill="#000" stroke="#fff" stroke-width="0.32">Do</text>
<text transform="translate(948.05 462.6) scale(0.802 1)" font-size="46.5" fill="#000" stroke="#fff" stroke-width="0.36">0</text><text transform="translate(968.78 462.6) scale(0.802 1)" font-size="46.5" fill="#000" stroke="#fff" stroke-width="0.36">8</text>
<text transform="translate(997.25 462.6) scale(0.766 1)" font-size="35.11" fill="#000" stroke="#fff" stroke-width="0.32">Fr</text>
<text transform="translate(948.05 522.4) scale(0.802 1)" font-size="46.5" fill="#3FA535" stroke="#E9ECCF" stroke-width="0.36">0</text><text transform="translate(968.78 522.4) scale(0.802 1)" font-size="46.5" fill="#3FA535" stroke="#E9ECCF" stroke-width="0.36">9</text>
<text transform="translate(997.25 522.4) scale(0.766 1)" font-size="35.11" fill="#3FA535" stroke="#E9ECCF" stroke-width="0.32">Sa</text>
<path d="M958.59 581.8L961.08 581.8L961.08 550.24L959.25 550.24Q958.99 555.1 951.65 555.61L951.65 557.6L958.59 557.6Z" fill="#3FA535"/><text transform="translate(968.78 582.2) scale(0.802 1)" font-size="46.5" fill="#3FA535" stroke="#CCDFBB" stroke-width="0.36">0</text>
<text transform="translate(997.25 582.2) scale(0.766 1)" font-size="35.11" fill="#3FA535" stroke="#CCDFBB" stroke-width="0.32">So</text>
<text transform="translate(1449.15 582.2) scale(0.831 1)" font-size="24.35" fill="#000" text-anchor="end" stroke="#CCDFBB" stroke-width="0.2">Muttertag</text>
<path d="M958.59 641.6L961.08 641.6L961.08 610.04L959.25 610.04Q958.99 614.9 951.65 615.41L951.65 617.4L958.59 617.4Z" fill="#000"/><path d="M979.32 641.6L981.81 641.6L981.81 610.04L979.98 610.04Q979.72 614.9 972.38 615.41L972.38 617.4L979.32 617.4Z" fill="#000"/>
<text transform="translate(997.25 642) scale(0.766 1)" font-size="35.11" fill="#000" stroke="#fff" stroke-width="0.32">Mo</text>
<text transform="translate(1392.25 645) scale(0.816 1)" font-size="63.01" fill="#9D9D9C" stroke="#fff" stroke-width="0.27">2</text><text transform="translate(1420.85 645) scale(0.816 1)" font-size="63.01" fill="#9D9D9C" stroke="#fff" stroke-width="0.27">0</text>
<path d="M958.59 701.4L961.08 701.4L961.08 669.84L959.25 669.84Q958.99 674.7 951.65 675.21L951.65 677.2L958.59 677.2Z" fill="#000"/><text transform="translate(968.78 701.8) scale(0.802 1)" font-size="46.5" fill="#000" stroke="#fff" stroke-width="0.36">2</text>
<text transform="translate(997.25 701.8) scale(0.766 1)" font-size="35.11" fill="#000" stroke="#fff" stroke-width="0.32">Di</text>
<path d="M958.59 761.2L961.08 761.2L961.08 729.64L959.25 729.64Q958.99 734.5 951.65 735.01L951.65 737L958.59 737Z" fill="#000"/><text transform="translate(968.78 761.6) scale(0.802 1)" font-size="46.5" fill="#000" stroke="#fff" stroke-width="0.36">3</text>
<text transform="translate(997.25 761.6) scale(0.766 1)" font-size="35.11" fill="#000" stroke="#fff" stroke-width="0.32">Mi</text>
<path d="M958.59 821L961.08 821L961.08 789.44L959.25 789.44Q958.99 794.3 951.65 794.81L951.65 796.8L958.59 796.8Z" fill="#3FA535"/><text transform="translate(968.78 821.4) scale(0.802 1)" font-size="46.5" fill="#3FA535" stroke="#CCDFBB" stroke-width="0.36">4</text>
<text transform="translate(997.25 821.4) scale(0.766 1)" font-size="35.11" fill="#3FA535" stroke="#CCDFBB" stroke-width="0.32">Do</text>
<text transform="translate(1449.15 821.4) scale(0.831 1)" font-size="24.35" fill="#000" text-anchor="end" stroke="#CCDFBB" stroke-width="0.2">Christi Himmelfahrt</text>
<path d="M958.59 880.8L961.08 880.8L961.08 849.24L959.25 849.24Q958.99 854.1 951.65 854.61L951.65 856.6L958.59 856.6Z" fill="#000"/><text transform="translate(968.78 881.2) scale(0.802 1)" font-size="46.5" fill="#000" stroke="#fff" stroke-width="0.36">5</text>
<text transform="translate(997.25 881.2) scale(0.766 1)" font-size="35.11" fill="#000" stroke="#fff" stroke-width="0.32">Fr</text>
<path d="M958.59 940.6L961.08 940.6L961.08 909.04L959.25 909.04Q958.99 913.9 951.65 914.41L951.65 916.4L958.59 916.4Z" fill="#3FA535"/><text transform="translate(968.78 941) scale(0.802 1)" font-size="46.5" fill="#3FA535" stroke="#E9ECCF" stroke-width="0.36">6</text>
<text transform="translate(997.25 941) scale(0.766 1)" font-size="35.11" fill="#3FA535" stroke="#E9ECCF" stroke-width="0.32">Sa</text>
<path d="M958.59 1000.4L961.08 1000.4L961.08 968.84L959.25 968.84Q958.99 973.7 951.65 974.21L951.65 976.2L958.59 976.2Z" fill="#3FA535"/><text transform="translate(968.78 1000.8) scale(0.802 1)" font-size="46.5" fill="#3FA535" stroke="#CCDFBB" stroke-width="0.36">7</text>
<text transform="translate(997.25 1000.8) scale(0.766 1)" font-size="35.11" fill="#3FA535" stroke="#CCDFBB" stroke-width="0.32">So</text>
<path d="M958.59 1060.2L961.08 1060.2L961.08 1028.64L959.25 1028.64Q958.99 1033.5 951.65 1034.01L951.65 1036L958.59 1036Z" fill="#000"/><text transform="translate(968.78 1060.6) scale(0.802 1)" font-size="46.5" fill="#000" stroke="#fff" stroke-width="0.36">8</text>
<text transform="translate(997.25 1060.6) scale(0.766 1)" font-size="35.11" fill="#000" stroke="#fff" stroke-width="0.32">Mo</text>
<text transform="translate(1392.25 1063.6) scale(0.816 1)" font-size="63.01" fill="#9D9D9C" stroke="#fff" stroke-width="0.27">2</text><path d="M1434.35 1063.04L1437.83 1063.04L1437.83 1018.86L1435.27 1018.86Q1434.91 1025.66 1424.63 1026.38L1424.63 1029.16L1434.35 1029.16Z" fill="#9D9D9C"/>
<path d="M958.59 1120L961.08 1120L961.08 1088.44L959.25 1088.44Q958.99 1093.3 951.65 1093.81L951.65 1095.8L958.59 1095.8Z" fill="#000"/><text transform="translate(968.78 1120.4) scale(0.802 1)" font-size="46.5" fill="#000" stroke="#fff" stroke-width="0.36">9</text>
<text transform="translate(997.25 1120.4) scale(0.766 1)" font-size="35.11" fill="#000" stroke="#fff" stroke-width="0.32">Di</text>
<text transform="translate(948.05 1180.2) scale(0.802 1)" font-size="46.5" fill="#000" stroke="#fff" stroke-width="0.36">2</text><text transform="translate(968.78 1180.2) scale(0.802 1)" font-size="46.5" fill="#000" stroke="#fff" stroke-width="0.36">0</text>
<text transform="translate(997.25 1180.2) scale(0.766 1)" font-size="35.11" fill="#000" stroke="#fff" stroke-width="0.32">Mi</text>
<text transform="translate(948.05 1240) scale(0.802 1)" font-size="46.5" fill="#000" stroke="#fff" stroke-width="0.36">2</text><path d="M979.32 1239.6L981.81 1239.6L981.81 1208.04L979.98 1208.04Q979.72 1212.9 972.38 1213.41L972.38 1215.4L979.32 1215.4Z" fill="#000"/>
<text transform="translate(997.25 1240) scale(0.766 1)" font-size="35.11" fill="#000" stroke="#fff" stroke-width="0.32">Do</text>
<text transform="translate(948.05 1299.8) scale(0.802 1)" font-size="46.5" fill="#000" stroke="#fff" stroke-width="0.36">2</text><text transform="translate(968.78 1299.8) scale(0.802 1)" font-size="46.5" fill="#000" stroke="#fff" stroke-width="0.36">2</text>
<text transform="translate(997.25 1299.8) scale(0.766 1)" font-size="35.11" fill="#000" stroke="#fff" stroke-width="0.32">Fr</text>
<text transform="translate(948.05 1359.6) scale(0.802 1)" font-size="46.5" fill="#3FA535" stroke="#E9ECCF" stroke-width="0.36">2</text><text transform="translate(968.78 1359.6) scale(0.802 1)" font-size="46.5" fill="#3FA535" stroke="#E9ECCF" stroke-width="0.36">3</text>
<text transform="translate(997.25 1359.6) scale(0.766 1)" font-size="35.11" fill="#3FA535" stroke="#E9ECCF" stroke-width="0.32">Sa</text>
<text transform="translate(948.05 1419.4) scale(0.802 1)" font-size="46.5" fill="#3FA535" stroke="#CCDFBB" stroke-width="0.36">2</text><text transform="translate(968.78 1419.4) scale(0.802 1)" font-size="46.5" fill="#3FA535" stroke="#CCDFBB" stroke-width="0.36">4</text>
<text transform="translate(997.25 1419.4) scale(0.766 1)" font-size="35.11" fill="#3FA535" stroke="#CCDFBB" stroke-width="0.32">So</text>
<text transform="translate(1449.15 1419.4) scale(0.831 1)" font-size="24.35" fill="#000" text-anchor="end" stroke="#CCDFBB" stroke-width="0.2">Pfingstsonntag</text>
<text transform="translate(948.05 1479.2) scale(0.802 1)" font-size="46.5" fill="#3FA535" stroke="#CCDFBB" stroke-width="0.36">2</text><text transform="translate(968.78 1479.2) scale(0.802 1)" font-size="46.5" fill="#3FA535" stroke="#CCDFBB" stroke-width="0.36">5</text>
<text transform="translate(997.25 1479.2) scale(0.766 1)" font-size="35.11" fill="#3FA535" stroke="#CCDFBB" stroke-width="0.32">Mo</text>
<text transform="translate(1449.15 1479.2) scale(0.831 1)" font-size="24.35" fill="#000" text-anchor="end" stroke="#CCDFBB" stroke-width="0.2">Pfingstmontag</text>
<text transform="translate(948.05 1539) scale(0.802 1)" font-size="46.5" fill="#000" stroke="#fff" stroke-width="0.36">2</text><text transform="translate(968.78 1539) scale(0.802 1)" font-size="46.5" fill="#000" stroke="#fff" stroke-width="0.36">6</text>
<text transform="translate(997.25 1539) scale(0.766 1)" font-size="35.11" fill="#000" stroke="#fff" stroke-width="0.32">Di</text>
<text transform="translate(1392.25 1542) scale(0.816 1)" font-size="63.01" fill="#9D9D9C" stroke="#fff" stroke-width="0.27">2</text><text transform="translate(1420.85 1542) scale(0.816 1)" font-size="63.01" fill="#9D9D9C" stroke="#fff" stroke-width="0.27">2</text>
<text transform="translate(948.05 1598.8) scale(0.802 1)" font-size="46.5" fill="#000" stroke="#fff" stroke-width="0.36">2</text><text transform="translate(968.78 1598.8) scale(0.802 1)" font-size="46.5" fill="#000" stroke="#fff" stroke-width="0.36">7</text>
<text transform="translate(997.25 1598.8) scale(0.766 1)" font-size="35.11" fill="#000" stroke="#fff" stroke-width="0.32">Mi</text>
<text transform="translate(948.05 1658.6) scale(0.802 1)" font-size="46.5" fill="#000" stroke="#fff" stroke-width="0.36">2</text><text transform="translate(968.78 1658.6) scale(0.802 1)" font-size="46.5" fill="#000" stroke="#fff" stroke-width="0.36">8</text>
<text transform="translate(997.25 1658.6) scale(0.766 1)" font-size="35.11" fill="#000" stroke="#fff" stroke-width="0.32">Do</text>
<text transform="translate(948.05 1718.4) scale(0.802 1)" font-size="46.5" fill="#000" stroke="#fff" stroke-width="0.36">2</text><text transform="translate(968.78 1718.4) scale(0.802 1)" font-size="46.5" fill="#000" stroke="#fff" stroke-width="0.36">9</text>
<text transform="translate(997.25 1718.4) scale(0.766 1)" font-size="35.11" fill="#000" stroke="#fff" stroke-width="0.32">Fr</text>
<circle cx="1439.3" cy="932.6" r="8.25" fill="#4BAA3C"/>
<path d="M1436.1 1343.6A8.25 8.25 0 1 1 1436.1 1358.8A8.07 8.07 0 0 0 1436.1 1343.6Z" fill="#4BAA3C"/>
</g>
<g>
<rect x="1476" y="175.1" width="511" height="60.9" fill="#D4E3F3"/>
<rect x="1476" y="294.7" width="511" height="56.7" fill="#D4E3F3"/>
<rect x="1476" y="357.4" width="511" height="58" fill="#ADCBE9"/>
<rect x="1476" y="713.3" width="511" height="56.7" fill="#D4E3F3"/>
<rect x="1476" y="776" width="511" height="58" fill="#ADCBE9"/>
<rect x="1476" y="1131.9" width="511" height="56.7" fill="#D4E3F3"/>
<rect x="1476" y="1194.6" width="511" height="58" fill="#ADCBE9"/>
<rect x="1476" y="1550.5" width="511" height="56.7" fill="#D4E3F3"/>
<rect x="1476" y="1613.2" width="511" height="58" fill="#ADCBE9"/>
<path d="M1476 56h511M1476 115.8h511M1476 474.6h511M1476 534.4h511M1476 594.2h511M1476 654h511M1476 893.2h511M1476 953h511M1476 1012.8h511M1476 1072.6h511M1476 1311.8h511M1476 1371.6h511M1476 1431.4h511M1476 1491.2h511M1476 1730.4h511" stroke="#1088BC" stroke-width="1.2" fill="none"/>
<text transform="translate(1481.3 44) scale(0.802 1)" font-size="46.5" fill="#000" stroke="#fff" stroke-width="0.36">0</text><path d="M1512.57 43.6L1515.06 43.6L1515.06 12.04L1513.23 12.04Q1512.97 16.9 1505.63 17.41L1505.63 19.4L1512.57 19.4Z" fill="#000"/>
<text transform="translate(1530.5 44) scale(0.766 1)" font-size="35.11" fill="#000" stroke="#fff" stroke-width="0.32">Mo</text>
<text transform="translate(1925.5 47) scale(0.816 1)" font-size="63.01" fill="#9D9D9C" stroke="#fff" stroke-width="0.27">2</text><text transform="translate(1954.1 47) scale(0.816 1)" font-size="63.01" fill="#9D9D9C" stroke="#fff" stroke-width="0.27">3</text>
<text transform="translate(1481.3 103.8) scale(0.802 1)" font-size="46.5" fill="#000" stroke="#fff" stroke-width="0.36">0</text><text transform="translate(1502.03 103.8) scale(0.802 1)" font-size="46.5" fill="#000" stroke="#fff" stroke-width="0.36">2</text>
<text transform="translate(1530.5 103.8) scale(0.766 1)" font-size="35.11" fill="#000" stroke="#fff" stroke-width="0.32">Di</text>
<text transform="translate(1481.3 163.6) scale(0.802 1)" font-size="46.5" fill="#000" stroke="#fff" stroke-width="0.36">0</text><text transform="translate(1502.03 163.6) scale(0.802 1)" font-size="46.5" fill="#000" stroke="#fff" stroke-width="0.36">3</text>
<text transform="translate(1530.5 163.6) scale(0.766 1)" font-size="35.11" fill="#000" stroke="#fff" stroke-width="0.32">Mi</text>
<text transform="translate(1481.3 223.4) scale(0.802 1)" font-size="46.5" fill="#0A82BE" stroke="#D4E3F3" stroke-width="0.36">0</text><text transform="translate(1502.03 223.4) scale(0.802 1)" font-size="46.5" fill="#0A82BE" stroke="#D4E3F3" stroke-width="0.36">4</text>
<text transform="translate(1530.5 223.4) scale(0.766 1)" font-size="35.11" fill="#0A82BE" stroke="#D4E3F3" stroke-width="0.32">Do</text>
<text transform="translate(1982.4 223.4) scale(0.753 1)" font-size="24.35" fill="#000" text-anchor="end" stroke="#D4E3F3" stroke-width="0.2">Fronleichnam (BW, BY, HE, NW, RP, SL)</text>
<text transform="translate(1481.3 283.2) scale(0.802 1)" font-size="46.5" fill="#000" stroke="#fff" stroke-width="0.36">0</text><text transform="translate(1502.03 283.2) scale(0.802 1)" font-size="46.5" fill="#000" stroke="#fff" stroke-width="0.36">5</text>
<text transform="translate(1530.5 283.2) scale(0.766 1)" font-size="35.11" fill="#000" stroke="#fff" stroke-width="0.32">Fr</text>
<text transform="translate(1481.3 343) scale(0.802 1)" font-size="46.5" fill="#0A82BE" stroke="#D4E3F3" stroke-width="0.36">0</text><text transform="translate(1502.03 343) scale(0.802 1)" font-size="46.5" fill="#0A82BE" stroke="#D4E3F3" stroke-width="0.36">6</text>
<text transform="translate(1530.5 343) scale(0.766 1)" font-size="35.11" fill="#0A82BE" stroke="#D4E3F3" stroke-width="0.32">Sa</text>
<text transform="translate(1481.3 402.8) scale(0.802 1)" font-size="46.5" fill="#0A82BE" stroke="#ADCBE9" stroke-width="0.36">0</text><text transform="translate(1502.03 402.8) scale(0.802 1)" font-size="46.5" fill="#0A82BE" stroke="#ADCBE9" stroke-width="0.36">7</text>
<text transform="translate(1530.5 402.8) scale(0.766 1)" font-size="35.11" fill="#0A82BE" stroke="#ADCBE9" stroke-width="0.32">So</text>
<text transform="translate(1481.3 462.6) scale(0.802 1)" font-size="46.5" fill="#000" stroke="#fff" stroke-width="0.36">0</text><text transform="translate(1502.03 462.6) scale(0.802 1)" font-size="46.5" fill="#000" stroke="#fff" stroke-width="0.36">8</text>
<text transform="translate(1530.5 462.6) scale(0.766 1)" font-size="35.11" fill="#000" stroke="#fff" stroke-width="0.32">Mo</text>
<text transform="translate(1925.5 465.6) scale(0.816 1)" font-size="63.01" fill="#9D9D9C" stroke="#fff" stroke-width="0.27">2</text><text transform="translate(1954.1 465.6) scale(0.816 1)" font-size="63.01" fill="#9D9D9C" stroke="#fff" stroke-width="0.27">4</text>
<text transform="translate(1481.3 522.4) scale(0.802 1)" font-size="46.5" fill="#000" stroke="#fff" stroke-width="0.36">0</text><text transform="translate(1502.03 522.4) scale(0.802 1)" font-size="46.5" fill="#000" stroke="#fff" stroke-width="0.36">9</text>
<text transform="translate(1530.5 522.4) scale(0.766 1)" font-size="35.11" fill="#000" stroke="#fff" stroke-width="0.32">Di</text>
<path d="M1491.84 581.8L1494.33 581.8L1494.33 550.24L1492.5 550.24Q1492.24 555.1 1484.9 555.61L1484.9 557.6L1491.84 557.6Z" fill="#000"/><text transform="translate(1502.03 582.2) scale(0.802 1)" font-size="46.5" fill="#000" stroke="#fff" stroke-width="0.36">0</text>
<text transform="translate(1530.5 582.2) scale(0.766 1)" font-size="35.11" fill="#000" stroke="#fff" stroke-width="0.32">Mi</text>
<path d="M1491.84 641.6L1494.33 641.6L1494.33 610.04L1492.5 610.04Q1492.24 614.9 1484.9 615.41L1484.9 617.4L1491.84 617.4Z" fill="#000"/><path d="M1512.57 641.6L1515.06 641.6L1515.06 610.04L1513.23 610.04Q1512.97 614.9 1505.63 615.41L1505.63 617.4L1512.57 617.4Z" fill="#000"/>
<text transform="translate(1530.5 642) scale(0.766 1)" font-size="35.11" fill="#000" stroke="#fff" stroke-width="0.32">Do</text>
<path d="M1491.84 701.4L1494.33 701.4L1494.33 669.84L1492.5 669.84Q1492.24 674.7 1484.9 675.21L1484.9 677.2L1491.84 677.2Z" fill="#000"/><text transform="translate(1502.03 701.8) scale(0.802 1)" font-size="46.5" fill="#000" stroke="#fff" stroke-width="0.36">2</text>
<text transform="translate(1530.5 701.8) scale(0.766 1)" font-size="35.11" fill="#000" stroke="#fff" stroke-width="0.32">Fr</text>
<path d="M1491.84 761.2L1494.33 761.2L1494.33 729.64L1492.5 729.64Q1492.24 734.5 1484.9 735.01L1484.9 737L1491.84 737Z" fill="#0A82BE"/><text transform="translate(1502.03 761.6) scale(0.802 1)" font-size="46.5" fill="#0A82BE" stroke="#D4E3F3" stroke-width="0.36">3</text>
<text transform="translate(1530.5 761.6) scale(0.766 1)" font-size="35.11" fill="#0A82BE" stroke="#D4E3F3" stroke-width="0.32">Sa</text>
<path d="M1491.84 821L1494.33 821L1494.33 789.44L1492.5 789.44Q1492.24 794.3 1484.9 794.81L1484.9 796.8L1491.84 796.8Z" fill="#0A82BE"/><text transform="translate(1502.03 821.4) scale(0.802 1)" font-size="46.5" fill="#0A82BE" stroke="#ADCBE9" stroke-width="0.36">4</text>
<text transform="translate(1530.5 821.4) scale(0.766 1)" font-size="35.11" fill="#0A82BE" stroke="#ADCBE9" stroke-width="0.32">So</text>
<path d="M1491.84 880.8L1494.33 880.8L1494.33 849.24L1492.5 849.24Q1492.24 854.1 1484.9 854.61L1484.9 856.6L1491.84 856.6Z" fill="#000"/><text transform="translate(1502.03 881.2) scale(0.802 1)" font-size="46.5" fill="#000" stroke="#fff" stroke-width="0.36">5</text>
<text transform="translate(1530.5 881.2) scale(0.766 1)" font-size="35.11" fill="#000" stroke="#fff" stroke-width="0.32">Mo</text>
<text transform="translate(1925.5 884.2) scale(0.816 1)" font-size="63.01" fill="#9D9D9C" stroke="#fff" stroke-width="0.27">2</text><text transform="translate(1954.1 884.2) scale(0.816 1)" font-size="63.01" fill="#9D9D9C" stroke="#fff" stroke-width="0.27">5</text>
<path d="M1491.84 940.6L1494.33 940.6L1494.33 909.04L1492.5 909.04Q1492.24 913.9 1484.9 914.41L1484.9 916.4L1491.84 916.4Z" fill="#000"/><text transform="translate(1502.03 941) scale(0.802 1)" font-size="46.5" fill="#000" stroke="#fff" stroke-width="0.36">6</text>
<text transform="translate(1530.5 941) scale(0.766 1)" font-size="35.11" fill="#000" stroke="#fff" stroke-width="0.32">Di</text>
<path d="M1491.84 1000.4L1494.33 1000.4L1494.33 968.84L1492.5 968.84Q1492.24 973.7 1484.9 974.21L1484.9 976.2L1491.84 976.2Z" fill="#000"/><text transform="translate(1502.03 1000.8) scale(0.802 1)" font-size="46.5" fill="#000" stroke="#fff" stroke-width="0.36">7</text>
<text transform="translate(1530.5 1000.8) scale(0.766 1)" font-size="35.11" fill="#000" stroke="#fff" stroke-width="0.32">Mi</text>
<path d="M1491.84 1060.2L1494.33 1060.2L1494.33 1028.64L1492.5 1028.64Q1492.24 1033.5 1484.9 1034.01L1484.9 1036L1491.84 1036Z" fill="#000"/><text transform="translate(1502.03 1060.6) scale(0.802 1)" font-size="46.5" fill="#000" stroke="#fff" stroke-width="0.36">8</text>
<text transform="translate(1530.5 1060.6) scale(0.766 1)" font-size="35.11" fill="#000" stroke="#fff" stroke-width="0.32">Do</text>
<path d="M1491.84 1120L1494.33 1120L1494.33 1088.44L1492.5 1088.44Q1492.24 1093.3 1484.9 1093.81L1484.9 1095.8L1491.84 1095.8Z" fill="#000"/><text transform="translate(1502.03 1120.4) scale(0.802 1)" font-size="46.5" fill="#000" stroke="#fff" stroke-width="0.36">9</text>
<text transform="translate(1530.5 1120.4) scale(0.766 1)" font-size="35.11" fill="#000" stroke="#fff" stroke-width="0.32">Fr</text>
<text transform="translate(1481.3 1180.2) scale(0.802 1)" font-size="46.5" fill="#0A82BE" stroke="#D4E3F3" stroke-width="0.36">2</text><text transform="translate(1502.03 1180.2) scale(0.802 1)" font-size="46.5" fill="#0A82BE" stroke="#D4E3F3" stroke-width="0.36">0</text>
<text transform="translate(1530.5 1180.2) scale(0.766 1)" font-size="35.11" fill="#0A82BE" stroke="#D4E3F3" stroke-width="0.32">Sa</text>
<text transform="translate(1481.3 1240) scale(0.802 1)" font-size="46.5" fill="#0A82BE" stroke="#ADCBE9" stroke-width="0.36">2</text><path d="M1512.57 1239.6L1515.06 1239.6L1515.06 1208.04L1513.23 1208.04Q1512.97 1212.9 1505.63 1213.41L1505.63 1215.4L1512.57 1215.4Z" fill="#0A82BE"/>
<text transform="translate(1530.5 1240) scale(0.766 1)" font-size="35.11" fill="#0A82BE" stroke="#ADCBE9" stroke-width="0.32">So</text>
<text transform="translate(1962.35 1240) scale(0.810 1)" font-size="24.35" fill="#000" text-anchor="end" stroke="#ADCBE9" stroke-width="0.2">Sommeranfang</text>
<text transform="translate(1481.3 1299.8) scale(0.802 1)" font-size="46.5" fill="#000" stroke="#fff" stroke-width="0.36">2</text><text transform="translate(1502.03 1299.8) scale(0.802 1)" font-size="46.5" fill="#000" stroke="#fff" stroke-width="0.36">2</text>
<text transform="translate(1530.5 1299.8) scale(0.766 1)" font-size="35.11" fill="#000" stroke="#fff" stroke-width="0.32">Mo</text>
<text transform="translate(1925.5 1302.8) scale(0.816 1)" font-size="63.01" fill="#9D9D9C" stroke="#fff" stroke-width="0.27">2</text><text transform="translate(1954.1 1302.8) scale(0.816 1)" font-size="63.01" fill="#9D9D9C" stroke="#fff" stroke-width="0.27">6</text>
<text transform="translate(1481.3 1359.6) scale(0.802 1)" font-size="46.5" fill="#000" stroke="#fff" stroke-width="0.36">2</text><text transform="translate(1502.03 1359.6) scale(0.802 1)" font-size="46.5" fill="#000" stroke="#fff" stroke-width="0.36">3</text>
<text transform="translate(1530.5 1359.6) scale(0.766 1)" font-size="35.11" fill="#000" stroke="#fff" stroke-width="0.32">Di</text>
<text transform="translate(1481.3 1419.4) scale(0.802 1)" font-size="46.5" fill="#000" stroke="#fff" stroke-width="0.36">2</text><text transform="translate(1502.03 1419.4) scale(0.802 1)" font-size="46.5" fill="#000" stroke="#fff" stroke-width="0.36">4</text>
<text transform="translate(1530.5 1419.4) scale(0.766 1)" font-size="35.11" fill="#000" stroke="#fff" stroke-width="0.32">Mi</text>
<text transform="translate(1481.3 1479.2) scale(0.802 1)" font-size="46.5" fill="#000" stroke="#fff" stroke-width="0.36">2</text><text transform="translate(1502.03 1479.2) scale(0.802 1)" font-size="46.5" fill="#000" stroke="#fff" stroke-width="0.36">5</text>
<text transform="translate(1530.5 1479.2) scale(0.766 1)" font-size="35.11" fill="#000" stroke="#fff" stroke-width="0.32">Do</text>
<text transform="translate(1481.3 1539) scale(0.802 1)" font-size="46.5" fill="#000" stroke="#fff" stroke-width="0.36">2</text><text transform="translate(1502.03 1539) scale(0.802 1)" font-size="46.5" fill="#000" stroke="#fff" stroke-width="0.36">6</text>
<text transform="translate(1530.5 1539) scale(0.766 1)" font-size="35.11" fill="#000" stroke="#fff" stroke-width="0.32">Fr</text>
<text transform="translate(1481.3 1598.8) scale(0.802 1)" font-size="46.5" fill="#0A82BE" stroke="#D4E3F3" stroke-width="0.36">2</text><text transform="translate(1502.03 1598.8) scale(0.802 1)" font-size="46.5" fill="#0A82BE" stroke="#D4E3F3" stroke-width="0.36">7</text>
<text transform="translate(1530.5 1598.8) scale(0.766 1)" font-size="35.11" fill="#0A82BE" stroke="#D4E3F3" stroke-width="0.32">Sa</text>
<text transform="translate(1481.3 1658.6) scale(0.802 1)" font-size="46.5" fill="#0A82BE" stroke="#ADCBE9" stroke-width="0.36">2</text><text transform="translate(1502.03 1658.6) scale(0.802 1)" font-size="46.5" fill="#0A82BE" stroke="#ADCBE9" stroke-width="0.36">8</text>
<text transform="translate(1530.5 1658.6) scale(0.766 1)" font-size="35.11" fill="#0A82BE" stroke="#ADCBE9" stroke-width="0.32">So</text>
<text transform="translate(1481.3 1718.4) scale(0.802 1)" font-size="46.5" fill="#000" stroke="#fff" stroke-width="0.36">2</text><text transform="translate(1502.03 1718.4) scale(0.802 1)" font-size="46.5" fill="#000" stroke="#fff" stroke-width="0.36">9</text>
<text transform="translate(1530.5 1718.4) scale(0.766 1)" font-size="35.11" fill="#000" stroke="#fff" stroke-width="0.32">Mo</text>
<text transform="translate(1925.5 1721.4) scale(0.816 1)" font-size="63.01" fill="#9D9D9C" stroke="#fff" stroke-width="0.27">2</text><text transform="translate(1954.1 1721.4) scale(0.816 1)" font-size="63.01" fill="#9D9D9C" stroke="#fff" stroke-width="0.27">7</text>
<circle cx="1910.55" cy="872.8" r="8.25" fill="#52AED8"/>
<path d="M1969.35 1224A8.25 8.25 0 1 1 1969.35 1239.2A8.07 8.07 0 0 0 1969.35 1224Z" fill="#52AED8"/>
</g>
</g>
<rect width="2000" height="1650" fill="#fff" opacity="0.69"/>
<circle cx="372.8" cy="155.2" r="7.75" fill="none" stroke="#FADDA8" stroke-width="1"/>
<path d="M381.05 626A8.25 8.25 0 1 0 381.05 641.2A8.07 8.07 0 0 1 381.05 626Z" fill="none" stroke="#FADDA8" stroke-width="0.9"/>
<circle cx="906.05" cy="95.4" r="7.75" fill="none" stroke="#B4DDB0" stroke-width="1"/>
<path d="M914.3 566.2A8.25 8.25 0 1 0 914.3 581.4A8.07 8.07 0 0 1 914.3 566.2Z" fill="none" stroke="#B4DDB0" stroke-width="0.9"/>
<circle cx="1439.3" cy="35.6" r="7.75" fill="none" stroke="#B4DDB0" stroke-width="1"/>
<path d="M1447.55 506.4A8.25 8.25 0 1 0 1447.55 521.6A8.07 8.07 0 0 1 1447.55 506.4Z" fill="none" stroke="#B4DDB0" stroke-width="0.9"/>
<path d="M1918.8 446.6A8.25 8.25 0 1 0 1918.8 461.8A8.07 8.07 0 0 1 1918.8 446.6Z" fill="none" stroke="#9CCDE2" stroke-width="0.9"/>
<circle cx="1007.2" cy="833.1" r="757" fill="url(#shad)"/>
<circle cx="1003.2" cy="826.8" r="717" fill="#fff"/>
<g clip-path="url(#lens)"><g transform="translate(924.9 -680.5) scale(1.4840 1.4196)">
<g>
<rect x="-657" y="773.1" width="511" height="56.7" fill="#FDE3DD"/>
<rect x="-657" y="835.8" width="511" height="58" fill="#F9CCC3"/>
<rect x="-657" y="1191.7" width="511" height="56.7" fill="#FDE3DD"/>
<rect x="-657" y="1254.4" width="511" height="58" fill="#F9CCC3"/>
<path d="M-657 534.4h511M-657 594.2h511M-657 654h511M-657 713.8h511M-657 953h511M-657 1012.8h511M-657 1072.6h511M-657 1132.4h511M-657 1371.6h511M-657 1431.4h511M-657 1491.2h511M-657 1551h511" stroke="#E2382C" stroke-width="1.1" fill="none"/>
<text transform="translate(-651.7 522.4) scale(0.838 1)" font-size="44.5" fill="#000" stroke="#fff" stroke-width="0.8">0</text><text transform="translate(-630.97 522.4) scale(0.838 1)" font-size="44.5" fill="#000" stroke="#fff" stroke-width="0.8">9</text>
<text transform="translate(-602.5 522.4) scale(0.800 1)" font-size="33.6" fill="#000" stroke="#fff" stroke-width="0.7">Mo</text>
<text transform="translate(-207.5 525.4) scale(0.853 1)" font-size="60.3" fill="#9D9D9C" stroke="#fff" stroke-width="0.6">0</text><text transform="translate(-178.9 525.4) scale(0.853 1)" font-size="60.3" fill="#9D9D9C" stroke="#fff" stroke-width="0.6">7</text>
<path d="M-641.16 581.8L-638.67 581.8L-638.67 551.6L-640.5 551.6Q-640.76 556.25 -648.1 556.74L-648.1 558.64L-641.16 558.64Z" fill="#000"/><text transform="translate(-630.97 582.2) scale(0.838 1)" font-size="44.5" fill="#000" stroke="#fff" stroke-width="0.8">0</text>
<text transform="translate(-602.5 582.2) scale(0.800 1)" font-size="33.6" fill="#000" stroke="#fff" stroke-width="0.7">Di</text>
<path d="M-641.16 641.6L-638.67 641.6L-638.67 611.4L-640.5 611.4Q-640.76 616.05 -648.1 616.54L-648.1 618.44L-641.16 618.44Z" fill="#000"/><path d="M-620.43 641.6L-617.94 641.6L-617.94 611.4L-619.77 611.4Q-620.03 616.05 -627.37 616.54L-627.37 618.44L-620.43 618.44Z" fill="#000"/>
<text transform="translate(-602.5 642) scale(0.800 1)" font-size="33.6" fill="#000" stroke="#fff" stroke-width="0.7">Mi</text>
<path d="M-641.16 701.4L-638.67 701.4L-638.67 671.2L-640.5 671.2Q-640.76 675.85 -648.1 676.34L-648.1 678.24L-641.16 678.24Z" fill="#000"/><text transform="translate(-630.97 701.8) scale(0.838 1)" font-size="44.5" fill="#000" stroke="#fff" stroke-width="0.8">2</text>
<text transform="translate(-602.5 701.8) scale(0.800 1)" font-size="33.6" fill="#000" stroke="#fff" stroke-width="0.7">Do</text>
<path d="M-641.16 761.2L-638.67 761.2L-638.67 731L-640.5 731Q-640.76 735.65 -648.1 736.14L-648.1 738.04L-641.16 738.04Z" fill="#000"/><text transform="translate(-630.97 761.6) scale(0.838 1)" font-size="44.5" fill="#000" stroke="#fff" stroke-width="0.8">3</text>
<text transform="translate(-602.5 761.6) scale(0.800 1)" font-size="33.6" fill="#000" stroke="#fff" stroke-width="0.7">Fr</text>
<path d="M-641.16 821L-638.67 821L-638.67 790.8L-640.5 790.8Q-640.76 795.45 -648.1 795.94L-648.1 797.84L-641.16 797.84Z" fill="#E2352B"/><text transform="translate(-630.97 821.4) scale(0.838 1)" font-size="44.5" fill="#E2352B" stroke="#FDE3DD" stroke-width="0.8">4</text>
<text transform="translate(-602.5 821.4) scale(0.800 1)" font-size="33.6" fill="#E2352B" stroke="#FDE3DD" stroke-width="0.7">Sa</text>
<text transform="translate(-150.6 821.4) scale(0.868 1)" font-size="23.3" fill="#000" text-anchor="end" stroke="#FDE3DD" stroke-width="0.45">Valentinstag</text>
<path d="M-641.16 880.8L-638.67 880.8L-638.67 850.6L-640.5 850.6Q-640.76 855.25 -648.1 855.74L-648.1 857.64L-641.16 857.64Z" fill="#E2352B"/><text transform="translate(-630.97 881.2) scale(0.838 1)" font-size="44.5" fill="#E2352B" stroke="#F9CCC3" stroke-width="0.8">5</text>
<text transform="translate(-602.5 881.2) scale(0.800 1)" font-size="33.6" fill="#E2352B" stroke="#F9CCC3" stroke-width="0.7">So</text>
<path d="M-641.16 940.6L-638.67 940.6L-638.67 910.4L-640.5 910.4Q-640.76 915.05 -648.1 915.54L-648.1 917.44L-641.16 917.44Z" fill="#000"/><text transform="translate(-630.97 941) scale(0.838 1)" font-size="44.5" fill="#000" stroke="#fff" stroke-width="0.8">6</text>
<text transform="translate(-602.5 941) scale(0.800 1)" font-size="33.6" fill="#000" stroke="#fff" stroke-width="0.7">Mo</text>
<text transform="translate(-207.5 944) scale(0.853 1)" font-size="60.3" fill="#9D9D9C" stroke="#fff" stroke-width="0.6">0</text><text transform="translate(-178.9 944) scale(0.853 1)" font-size="60.3" fill="#9D9D9C" stroke="#fff" stroke-width="0.6">8</text>
<text transform="translate(-213.6 941) scale(0.846 1)" font-size="23.3" fill="#000" text-anchor="end" stroke="#fff" stroke-width="0.45">Rosenmontag</text>
<path d="M-641.16 1000.4L-638.67 1000.4L-638.67 970.2L-640.5 970.2Q-640.76 974.85 -648.1 975.34L-648.1 977.24L-641.16 977.24Z" fill="#000"/><text transform="translate(-630.97 1000.8) scale(0.838 1)" font-size="44.5" fill="#000" stroke="#fff" stroke-width="0.8">7</text>
<text transform="translate(-602.5 1000.8) scale(0.800 1)" font-size="33.6" fill="#000" stroke="#fff" stroke-width="0.7">Di</text>
<text transform="translate(-175.7 1000.8) scale(0.855 1)" font-size="23.3" fill="#000" text-anchor="end" stroke="#fff" stroke-width="0.45">Fastnacht</text>
<path d="M-641.16 1060.2L-638.67 1060.2L-638.67 1030L-640.5 1030Q-640.76 1034.65 -648.1 1035.14L-648.1 1037.04L-641.16 1037.04Z" fill="#000"/><text transform="translate(-630.97 1060.6) scale(0.838 1)" font-size="44.5" fill="#000" stroke="#fff" stroke-width="0.8">8</text>
<text transform="translate(-602.5 1060.6) scale(0.800 1)" font-size="33.6" fill="#000" stroke="#fff" stroke-width="0.7">Mi</text>
<text transform="translate(-150.6 1060.6) scale(0.868 1)" font-size="23.3" fill="#000" text-anchor="end" stroke="#fff" stroke-width="0.45">Aschermittwoch</text>
<path d="M-641.16 1120L-638.67 1120L-638.67 1089.8L-640.5 1089.8Q-640.76 1094.45 -648.1 1094.94L-648.1 1096.84L-641.16 1096.84Z" fill="#000"/><text transform="translate(-630.97 1120.4) scale(0.838 1)" font-size="44.5" fill="#000" stroke="#fff" stroke-width="0.8">9</text>
<text transform="translate(-602.5 1120.4) scale(0.800 1)" font-size="33.6" fill="#000" stroke="#fff" stroke-width="0.7">Do</text>
<text transform="translate(-651.7 1180.2) scale(0.838 1)" font-size="44.5" fill="#000" stroke="#fff" stroke-width="0.8">2</text><text transform="translate(-630.97 1180.2) scale(0.838 1)" font-size="44.5" fill="#000" stroke="#fff" stroke-width="0.8">0</text>
<text transform="translate(-602.5 1180.2) scale(0.800 1)" font-size="33.6" fill="#000" stroke="#fff" stroke-width="0.7">Fr</text>
<text transform="translate(-651.7 1240) scale(0.838 1)" font-size="44.5" fill="#E2352B" stroke="#FDE3DD" stroke-width="0.8">2</text><path d="M-620.43 1239.6L-617.94 1239.6L-617.94 1209.4L-619.77 1209.4Q-620.03 1214.05 -627.37 1214.54L-627.37 1216.44L-620.43 1216.44Z" fill="#E2352B"/>
<text transform="translate(-602.5 1240) scale(0.800 1)" font-size="33.6" fill="#E2352B" stroke="#FDE3DD" stroke-width="0.7">Sa</text>
<text transform="translate(-651.7 1299.8) scale(0.838 1)" font-size="44.5" fill="#E2352B" stroke="#F9CCC3" stroke-width="0.8">2</text><text transform="translate(-630.97 1299.8) scale(0.838 1)" font-size="44.5" fill="#E2352B" stroke="#F9CCC3" stroke-width="0.8">2</text>
<text transform="translate(-602.5 1299.8) scale(0.800 1)" font-size="33.6" fill="#E2352B" stroke="#F9CCC3" stroke-width="0.7">So</text>
<text transform="translate(-651.7 1359.6) scale(0.838 1)" font-size="44.5" fill="#000" stroke="#fff" stroke-width="0.8">2</text><text transform="translate(-630.97 1359.6) scale(0.838 1)" font-size="44.5" fill="#000" stroke="#fff" stroke-width="0.8">3</text>
<text transform="translate(-602.5 1359.6) scale(0.800 1)" font-size="33.6" fill="#000" stroke="#fff" stroke-width="0.7">Mo</text>
<text transform="translate(-207.5 1362.6) scale(0.853 1)" font-size="60.3" fill="#9D9D9C" stroke="#fff" stroke-width="0.6">0</text><text transform="translate(-178.9 1362.6) scale(0.853 1)" font-size="60.3" fill="#9D9D9C" stroke="#fff" stroke-width="0.6">9</text>
<text transform="translate(-651.7 1419.4) scale(0.838 1)" font-size="44.5" fill="#000" stroke="#fff" stroke-width="0.8">2</text><text transform="translate(-630.97 1419.4) scale(0.838 1)" font-size="44.5" fill="#000" stroke="#fff" stroke-width="0.8">4</text>
<text transform="translate(-602.5 1419.4) scale(0.800 1)" font-size="33.6" fill="#000" stroke="#fff" stroke-width="0.7">Di</text>
<text transform="translate(-651.7 1479.2) scale(0.838 1)" font-size="44.5" fill="#000" stroke="#fff" stroke-width="0.8">2</text><text transform="translate(-630.97 1479.2) scale(0.838 1)" font-size="44.5" fill="#000" stroke="#fff" stroke-width="0.8">5</text>
<text transform="translate(-602.5 1479.2) scale(0.800 1)" font-size="33.6" fill="#000" stroke="#fff" stroke-width="0.7">Mi</text>
<text transform="translate(-651.7 1539) scale(0.838 1)" font-size="44.5" fill="#000" stroke="#fff" stroke-width="0.8">2</text><text transform="translate(-630.97 1539) scale(0.838 1)" font-size="44.5" fill="#000" stroke="#fff" stroke-width="0.8">6</text>
<text transform="translate(-602.5 1539) scale(0.800 1)" font-size="33.6" fill="#000" stroke="#fff" stroke-width="0.7">Do</text>
<text transform="translate(-651.7 1598.8) scale(0.838 1)" font-size="44.5" fill="#000" stroke="#fff" stroke-width="0.8">2</text><text transform="translate(-630.97 1598.8) scale(0.838 1)" font-size="44.5" fill="#000" stroke="#fff" stroke-width="0.8">7</text>
<text transform="translate(-602.5 1598.8) scale(0.800 1)" font-size="33.6" fill="#000" stroke="#fff" stroke-width="0.7">Fr</text>
<circle cx="-160.45" cy="992.4" r="8.25" fill="#F0917A"/>
<path d="M-163.65 1403.4A8.25 8.25 0 1 1 -163.65 1418.6A8.07 8.07 0 0 0 -163.65 1403.4Z" fill="#F0917A"/>
</g>
<g>
<rect x="-123.75" y="773.1" width="511" height="56.7" fill="#FEEFD8"/>
<rect x="-123.75" y="835.8" width="511" height="58" fill="#FDDDAE"/>
<rect x="-123.75" y="1191.7" width="511" height="56.7" fill="#FEEFD8"/>
<rect x="-123.75" y="1254.4" width="511" height="58" fill="#FDDDAE"/>
<path d="M-123.75 534.4h511M-123.75 594.2h511M-123.75 654h511M-123.75 713.8h511M-123.75 953h511M-123.75 1012.8h511M-123.75 1072.6h511M-123.75 1132.4h511M-123.75 1371.6h511M-123.75 1431.4h511M-123.75 1491.2h511M-123.75 1551h511" stroke="#EF8F22" stroke-width="1.1" fill="none"/>
<text transform="translate(-118.45 522.4) scale(0.838 1)" font-size="44.5" fill="#000" stroke="#fff" stroke-width="0.8">0</text><text transform="translate(-97.72 522.4) scale(0.838 1)" font-size="44.5" fill="#000" stroke="#fff" stroke-width="0.8">9</text>
<text transform="translate(-69.25 522.4) scale(0.800 1)" font-size="33.6" fill="#000" stroke="#fff" stroke-width="0.7">Mo</text>
<path d="M339.25 524.84L342.74 524.84L342.74 482.56L340.17 482.56Q339.81 489.07 329.53 489.76L329.53 492.42L339.25 492.42Z" fill="#9D9D9C"/><path d="M367.85 524.84L371.33 524.84L371.33 482.56L368.77 482.56Q368.41 489.07 358.13 489.76L358.13 492.42L367.85 492.42Z" fill="#9D9D9C"/>
<path d="M-107.91 581.8L-105.42 581.8L-105.42 551.6L-107.25 551.6Q-107.51 556.25 -114.85 556.74L-114.85 558.64L-107.91 558.64Z" fill="#000"/><text transform="translate(-97.72 582.2) scale(0.838 1)" font-size="44.5" fill="#000" stroke="#fff" stroke-width="0.8">0</text>
<text transform="translate(-69.25 582.2) scale(0.800 1)" font-size="33.6" fill="#000" stroke="#fff" stroke-width="0.7">Di</text>
<path d="M-107.91 641.6L-105.42 641.6L-105.42 611.4L-107.25 611.4Q-107.51 616.05 -114.85 616.54L-114.85 618.44L-107.91 618.44Z" fill="#000"/><path d="M-87.18 641.6L-84.69 641.6L-84.69 611.4L-86.52 611.4Q-86.78 616.05 -94.12 616.54L-94.12 618.44L-87.18 618.44Z" fill="#000"/>
<text transform="translate(-69.25 642) scale(0.800 1)" font-size="33.6" fill="#000" stroke="#fff" stroke-width="0.7">Mi</text>
<path d="M-107.91 701.4L-105.42 701.4L-105.42 671.2L-107.25 671.2Q-107.51 675.85 -114.85 676.34L-114.85 678.24L-107.91 678.24Z" fill="#000"/><text transform="translate(-97.72 701.8) scale(0.838 1)" font-size="44.5" fill="#000" stroke="#fff" stroke-width="0.8">2</text>
<text transform="translate(-69.25 701.8) scale(0.800 1)" font-size="33.6" fill="#000" stroke="#fff" stroke-width="0.7">Do</text>
<path d="M-107.91 761.2L-105.42 761.2L-105.42 731L-107.25 731Q-107.51 735.65 -114.85 736.14L-114.85 738.04L-107.91 738.04Z" fill="#000"/><text transform="translate(-97.72 761.6) scale(0.838 1)" font-size="44.5" fill="#000" stroke="#fff" stroke-width="0.8">3</text>
<text transform="translate(-69.25 761.6) scale(0.800 1)" font-size="33.6" fill="#000" stroke="#fff" stroke-width="0.7">Fr</text>
<path d="M-107.91 821L-105.42 821L-105.42 790.8L-107.25 790.8Q-107.51 795.45 -114.85 795.94L-114.85 797.84L-107.91 797.84Z" fill="#E8930C"/><text transform="translate(-97.72 821.4) scale(0.838 1)" font-size="44.5" fill="#E8930C" stroke="#FEEFD8" stroke-width="0.8">4</text>
<text transform="translate(-69.25 821.4) scale(0.800 1)" font-size="33.6" fill="#E8930C" stroke="#FEEFD8" stroke-width="0.7">Sa</text>
<path d="M-107.91 880.8L-105.42 880.8L-105.42 850.6L-107.25 850.6Q-107.51 855.25 -114.85 855.74L-114.85 857.64L-107.91 857.64Z" fill="#E8930C"/><text transform="translate(-97.72 881.2) scale(0.838 1)" font-size="44.5" fill="#E8930C" stroke="#FDDDAE" stroke-width="0.8">5</text>
<text transform="translate(-69.25 881.2) scale(0.800 1)" font-size="33.6" fill="#E8930C" stroke="#FDDDAE" stroke-width="0.7">So</text>
<path d="M-107.91 940.6L-105.42 940.6L-105.42 910.4L-107.25 910.4Q-107.51 915.05 -114.85 915.54L-114.85 917.44L-107.91 917.44Z" fill="#000"/><text transform="translate(-97.72 941) scale(0.838 1)" font-size="44.5" fill="#000" stroke="#fff" stroke-width="0.8">6</text>
<text transform="translate(-69.25 941) scale(0.800 1)" font-size="33.6" fill="#000" stroke="#fff" stroke-width="0.7">Mo</text>
<path d="M339.25 943.44L342.74 943.44L342.74 901.16L340.17 901.16Q339.81 907.67 329.53 908.36L329.53 911.02L339.25 911.02Z" fill="#9D9D9C"/><text transform="translate(354.35 944) scale(0.853 1)" font-size="60.3" fill="#9D9D9C" stroke="#fff" stroke-width="0.6">2</text>
<path d="M-107.91 1000.4L-105.42 1000.4L-105.42 970.2L-107.25 970.2Q-107.51 974.85 -114.85 975.34L-114.85 977.24L-107.91 977.24Z" fill="#000"/><text transform="translate(-97.72 1000.8) scale(0.838 1)" font-size="44.5" fill="#000" stroke="#fff" stroke-width="0.8">7</text>
<text transform="translate(-69.25 1000.8) scale(0.800 1)" font-size="33.6" fill="#000" stroke="#fff" stroke-width="0.7">Di</text>
<path d="M-107.91 1060.2L-105.42 1060.2L-105.42 1030L-107.25 1030Q-107.51 1034.65 -114.85 1035.14L-114.85 1037.04L-107.91 1037.04Z" fill="#000"/><text transform="translate(-97.72 1060.6) scale(0.838 1)" font-size="44.5" fill="#000" stroke="#fff" stroke-width="0.8">8</text>
<text transform="translate(-69.25 1060.6) scale(0.800 1)" font-size="33.6" fill="#000" stroke="#fff" stroke-width="0.7">Mi</text>
<path d="M-107.91 1120L-105.42 1120L-105.42 1089.8L-107.25 1089.8Q-107.51 1094.45 -114.85 1094.94L-114.85 1096.84L-107.91 1096.84Z" fill="#000"/><text transform="translate(-97.72 1120.4) scale(0.838 1)" font-size="44.5" fill="#000" stroke="#fff" stroke-width="0.8">9</text>
<text transform="translate(-69.25 1120.4) scale(0.800 1)" font-size="33.6" fill="#000" stroke="#fff" stroke-width="0.7">Do</text>
<text transform="translate(-118.45 1180.2) scale(0.838 1)" font-size="44.5" fill="#000" stroke="#fff" stroke-width="0.8">2</text><text transform="translate(-97.72 1180.2) scale(0.838 1)" font-size="44.5" fill="#000" stroke="#fff" stroke-width="0.8">0</text>
<text transform="translate(-69.25 1180.2) scale(0.800 1)" font-size="33.6" fill="#000" stroke="#fff" stroke-width="0.7">Fr</text>
<text transform="translate(382.65 1180.2) scale(0.868 1)" font-size="23.3" fill="#000" text-anchor="end" stroke="#fff" stroke-width="0.45">Frühlingsanfang</text>
<text transform="translate(-118.45 1240) scale(0.838 1)" font-size="44.5" fill="#E8930C" stroke="#FEEFD8" stroke-width="0.8">2</text><path d="M-87.18 1239.6L-84.69 1239.6L-84.69 1209.4L-86.52 1209.4Q-86.78 1214.05 -94.12 1214.54L-94.12 1216.44L-87.18 1216.44Z" fill="#E8930C"/>
<text transform="translate(-69.25 1240) scale(0.800 1)" font-size="33.6" fill="#E8930C" stroke="#FEEFD8" stroke-width="0.7">Sa</text>
<text transform="translate(-118.45 1299.8) scale(0.838 1)" font-size="44.5" fill="#E8930C" stroke="#FDDDAE" stroke-width="0.8">2</text><text transform="translate(-97.72 1299.8) scale(0.838 1)" font-size="44.5" fill="#E8930C" stroke="#FDDDAE" stroke-width="0.8">2</text>
<text transform="translate(-69.25 1299.8) scale(0.800 1)" font-size="33.6" fill="#E8930C" stroke="#FDDDAE" stroke-width="0.7">So</text>
<text transform="translate(-118.45 1359.6) scale(0.838 1)" font-size="44.5" fill="#000" stroke="#fff" stroke-width="0.8">2</text><text transform="translate(-97.72 1359.6) scale(0.838 1)" font-size="44.5" fill="#000" stroke="#fff" stroke-width="0.8">3</text>
<text transform="translate(-69.25 1359.6) scale(0.800 1)" font-size="33.6" fill="#000" stroke="#fff" stroke-width="0.7">Mo</text>
<path d="M339.25 1362.04L342.74 1362.04L342.74 1319.76L340.17 1319.76Q339.81 1326.27 329.53 1326.96L329.53 1329.62L339.25 1329.62Z" fill="#9D9D9C"/><text transform="translate(354.35 1362.6) scale(0.853 1)" font-size="60.3" fill="#9D9D9C" stroke="#fff" stroke-width="0.6">3</text>
<text transform="translate(-118.45 1419.4) scale(0.838 1)" font-size="44.5" fill="#000" stroke="#fff" stroke-width="0.8">2</text><text transform="translate(-97.72 1419.4) scale(0.838 1)" font-size="44.5" fill="#000" stroke="#fff" stroke-width="0.8">4</text>
<text transform="translate(-69.25 1419.4) scale(0.800 1)" font-size="33.6" fill="#000" stroke="#fff" stroke-width="0.7">Di</text>
<text transform="translate(-118.45 1479.2) scale(0.838 1)" font-size="44.5" fill="#000" stroke="#fff" stroke-width="0.8">2</text><text transform="translate(-97.72 1479.2) scale(0.838 1)" font-size="44.5" fill="#000" stroke="#fff" stroke-width="0.8">5</text>
<text transform="translate(-69.25 1479.2) scale(0.800 1)" font-size="33.6" fill="#000" stroke="#fff" stroke-width="0.7">Mi</text>
<text transform="translate(-118.45 1539) scale(0.838 1)" font-size="44.5" fill="#000" stroke="#fff" stroke-width="0.8">2</text><text transform="translate(-97.72 1539) scale(0.838 1)" font-size="44.5" fill="#000" stroke="#fff" stroke-width="0.8">6</text>
<text transform="translate(-69.25 1539) scale(0.800 1)" font-size="33.6" fill="#000" stroke="#fff" stroke-width="0.7">Do</text>
<text transform="translate(-118.45 1598.8) scale(0.838 1)" font-size="44.5" fill="#000" stroke="#fff" stroke-width="0.8">2</text><text transform="translate(-97.72 1598.8) scale(0.838 1)" font-size="44.5" fill="#000" stroke="#fff" stroke-width="0.8">7</text>
<text transform="translate(-69.25 1598.8) scale(0.800 1)" font-size="33.6" fill="#000" stroke="#fff" stroke-width="0.7">Fr</text>
<circle cx="372.8" cy="1112" r="8.25" fill="#FDC85C"/>
<path d="M369.6 1463.2A8.25 8.25 0 1 1 369.6 1478.4A8.07 8.07 0 0 0 369.6 1463.2Z" fill="#FDC85C"/>
</g>
<g>
<rect x="409.5" y="593.7" width="511" height="56.7" fill="#F6F0C5"/>
<rect x="409.5" y="656.4" width="511" height="58" fill="#EFE69E"/>
<rect x="409.5" y="1012.3" width="511" height="56.7" fill="#F6F0C5"/>
<rect x="409.5" y="1075" width="511" height="58" fill="#EFE69E"/>
<rect x="409.5" y="1430.9" width="511" height="56.7" fill="#F6F0C5"/>
<rect x="409.5" y="1493.6" width="511" height="58" fill="#EFE69E"/>
<path d="M409.5 534.4h511M409.5 773.6h511M409.5 833.4h511M409.5 893.2h511M409.5 953h511M409.5 1192.2h511M409.5 1252h511M409.5 1311.8h511M409.5 1371.6h511M409.5 1610.8h511" stroke="#55AB3F" stroke-width="1.1" fill="none"/>
<text transform="translate(414.8 522.4) scale(0.838 1)" font-size="44.5" fill="#000" stroke="#fff" stroke-width="0.8">0</text><text transform="translate(435.53 522.4) scale(0.838 1)" font-size="44.5" fill="#000" stroke="#fff" stroke-width="0.8">9</text>
<text transform="translate(464 522.4) scale(0.800 1)" font-size="33.6" fill="#000" stroke="#fff" stroke-width="0.7">Do</text>
<path d="M425.34 581.8L427.83 581.8L427.83 551.6L426 551.6Q425.74 556.25 418.4 556.74L418.4 558.64L425.34 558.64Z" fill="#000"/><text transform="translate(435.53 582.2) scale(0.838 1)" font-size="44.5" fill="#000" stroke="#fff" stroke-width="0.8">0</text>
<text transform="translate(464 582.2) scale(0.800 1)" font-size="33.6" fill="#000" stroke="#fff" stroke-width="0.7">Fr</text>
<path d="M425.34 641.6L427.83 641.6L427.83 611.4L426 611.4Q425.74 616.05 418.4 616.54L418.4 618.44L425.34 618.44Z" fill="#4AA72F"/><path d="M446.07 641.6L448.56 641.6L448.56 611.4L446.73 611.4Q446.47 616.05 439.13 616.54L439.13 618.44L446.07 618.44Z" fill="#4AA72F"/>
<text transform="translate(464 642) scale(0.800 1)" font-size="33.6" fill="#4AA72F" stroke="#F6F0C5" stroke-width="0.7">Sa</text>
<path d="M425.34 701.4L427.83 701.4L427.83 671.2L426 671.2Q425.74 675.85 418.4 676.34L418.4 678.24L425.34 678.24Z" fill="#4AA72F"/><text transform="translate(435.53 701.8) scale(0.838 1)" font-size="44.5" fill="#4AA72F" stroke="#EFE69E" stroke-width="0.8">2</text>
<text transform="translate(464 701.8) scale(0.800 1)" font-size="33.6" fill="#4AA72F" stroke="#EFE69E" stroke-width="0.7">So</text>
<path d="M425.34 761.2L427.83 761.2L427.83 731L426 731Q425.74 735.65 418.4 736.14L418.4 738.04L425.34 738.04Z" fill="#000"/><text transform="translate(435.53 761.6) scale(0.838 1)" font-size="44.5" fill="#000" stroke="#fff" stroke-width="0.8">3</text>
<text transform="translate(464 761.6) scale(0.800 1)" font-size="33.6" fill="#000" stroke="#fff" stroke-width="0.7">Mo</text>
<path d="M872.5 764.04L875.99 764.04L875.99 721.76L873.42 721.76Q873.06 728.27 862.78 728.96L862.78 731.62L872.5 731.62Z" fill="#9D9D9C"/><text transform="translate(887.6 764.6) scale(0.853 1)" font-size="60.3" fill="#9D9D9C" stroke="#fff" stroke-width="0.6">6</text>
<path d="M425.34 821L427.83 821L427.83 790.8L426 790.8Q425.74 795.45 418.4 795.94L418.4 797.84L425.34 797.84Z" fill="#000"/><text transform="translate(435.53 821.4) scale(0.838 1)" font-size="44.5" fill="#000" stroke="#fff" stroke-width="0.8">4</text>
<text transform="translate(464 821.4) scale(0.800 1)" font-size="33.6" fill="#000" stroke="#fff" stroke-width="0.7">Di</text>
<path d="M425.34 880.8L427.83 880.8L427.83 850.6L426 850.6Q425.74 855.25 418.4 855.74L418.4 857.64L425.34 857.64Z" fill="#000"/><text transform="translate(435.53 881.2) scale(0.838 1)" font-size="44.5" fill="#000" stroke="#fff" stroke-width="0.8">5</text>
<text transform="translate(464 881.2) scale(0.800 1)" font-size="33.6" fill="#000" stroke="#fff" stroke-width="0.7">Mi</text>
<path d="M425.34 940.6L427.83 940.6L427.83 910.4L426 910.4Q425.74 915.05 418.4 915.54L418.4 917.44L425.34 917.44Z" fill="#000"/><text transform="translate(435.53 941) scale(0.838 1)" font-size="44.5" fill="#000" stroke="#fff" stroke-width="0.8">6</text>
<text transform="translate(464 941) scale(0.800 1)" font-size="33.6" fill="#000" stroke="#fff" stroke-width="0.7">Do</text>
<path d="M425.34 1000.4L427.83 1000.4L427.83 970.2L426 970.2Q425.74 974.85 418.4 975.34L418.4 977.24L425.34 977.24Z" fill="#000"/><text transform="translate(435.53 1000.8) scale(0.838 1)" font-size="44.5" fill="#000" stroke="#fff" stroke-width="0.8">7</text>
<text transform="translate(464 1000.8) scale(0.800 1)" font-size="33.6" fill="#000" stroke="#fff" stroke-width="0.7">Fr</text>
<path d="M425.34 1060.2L427.83 1060.2L427.83 1030L426 1030Q425.74 1034.65 418.4 1035.14L418.4 1037.04L425.34 1037.04Z" fill="#4AA72F"/><text transform="translate(435.53 1060.6) scale(0.838 1)" font-size="44.5" fill="#4AA72F" stroke="#F6F0C5" stroke-width="0.8">8</text>
<text transform="translate(464 1060.6) scale(0.800 1)" font-size="33.6" fill="#4AA72F" stroke="#F6F0C5" stroke-width="0.7">Sa</text>
<path d="M425.34 1120L427.83 1120L427.83 1089.8L426 1089.8Q425.74 1094.45 418.4 1094.94L418.4 1096.84L425.34 1096.84Z" fill="#4AA72F"/><text transform="translate(435.53 1120.4) scale(0.838 1)" font-size="44.5" fill="#4AA72F" stroke="#EFE69E" stroke-width="0.8">9</text>
<text transform="translate(464 1120.4) scale(0.800 1)" font-size="33.6" fill="#4AA72F" stroke="#EFE69E" stroke-width="0.7">So</text>
<text transform="translate(414.8 1180.2) scale(0.838 1)" font-size="44.5" fill="#000" stroke="#fff" stroke-width="0.8">2</text><text transform="translate(435.53 1180.2) scale(0.838 1)" font-size="44.5" fill="#000" stroke="#fff" stroke-width="0.8">0</text>
<text transform="translate(464 1180.2) scale(0.800 1)" font-size="33.6" fill="#000" stroke="#fff" stroke-width="0.7">Mo</text>
<path d="M872.5 1182.64L875.99 1182.64L875.99 1140.36L873.42 1140.36Q873.06 1146.87 862.78 1147.56L862.78 1150.22L872.5 1150.22Z" fill="#9D9D9C"/><text transform="translate(887.6 1183.2) scale(0.853 1)" font-size="60.3" fill="#9D9D9C" stroke="#fff" stroke-width="0.6">7</text>
<text transform="translate(414.8 1240) scale(0.838 1)" font-size="44.5" fill="#000" stroke="#fff" stroke-width="0.8">2</text><path d="M446.07 1239.6L448.56 1239.6L448.56 1209.4L446.73 1209.4Q446.47 1214.05 439.13 1214.54L439.13 1216.44L446.07 1216.44Z" fill="#000"/>
<text transform="translate(464 1240) scale(0.800 1)" font-size="33.6" fill="#000" stroke="#fff" stroke-width="0.7">Di</text>
<text transform="translate(414.8 1299.8) scale(0.838 1)" font-size="44.5" fill="#000" stroke="#fff" stroke-width="0.8">2</text><text transform="translate(435.53 1299.8) scale(0.838 1)" font-size="44.5" fill="#000" stroke="#fff" stroke-width="0.8">2</text>
<text transform="translate(464 1299.8) scale(0.800 1)" font-size="33.6" fill="#000" stroke="#fff" stroke-width="0.7">Mi</text>
<text transform="translate(414.8 1359.6) scale(0.838 1)" font-size="44.5" fill="#000" stroke="#fff" stroke-width="0.8">2</text><text transform="translate(435.53 1359.6) scale(0.838 1)" font-size="44.5" fill="#000" stroke="#fff" stroke-width="0.8">3</text>
<text transform="translate(464 1359.6) scale(0.800 1)" font-size="33.6" fill="#000" stroke="#fff" stroke-width="0.7">Do</text>
<text transform="translate(414.8 1419.4) scale(0.838 1)" font-size="44.5" fill="#000" stroke="#fff" stroke-width="0.8">2</text><text transform="translate(435.53 1419.4) scale(0.838 1)" font-size="44.5" fill="#000" stroke="#fff" stroke-width="0.8">4</text>
<text transform="translate(464 1419.4) scale(0.800 1)" font-size="33.6" fill="#000" stroke="#fff" stroke-width="0.7">Fr</text>
<text transform="translate(414.8 1479.2) scale(0.838 1)" font-size="44.5" fill="#4AA72F" stroke="#F6F0C5" stroke-width="0.8">2</text><text transform="translate(435.53 1479.2) scale(0.838 1)" font-size="44.5" fill="#4AA72F" stroke="#F6F0C5" stroke-width="0.8">5</text>
<text transform="translate(464 1479.2) scale(0.800 1)" font-size="33.6" fill="#4AA72F" stroke="#F6F0C5" stroke-width="0.7">Sa</text>
<text transform="translate(414.8 1539) scale(0.838 1)" font-size="44.5" fill="#4AA72F" stroke="#EFE69E" stroke-width="0.8">2</text><text transform="translate(435.53 1539) scale(0.838 1)" font-size="44.5" fill="#4AA72F" stroke="#EFE69E" stroke-width="0.8">6</text>
<text transform="translate(464 1539) scale(0.800 1)" font-size="33.6" fill="#4AA72F" stroke="#EFE69E" stroke-width="0.7">So</text>
<text transform="translate(414.8 1598.8) scale(0.838 1)" font-size="44.5" fill="#000" stroke="#fff" stroke-width="0.8">2</text><text transform="translate(435.53 1598.8) scale(0.838 1)" font-size="44.5" fill="#000" stroke="#fff" stroke-width="0.8">7</text>
<text transform="translate(464 1598.8) scale(0.800 1)" font-size="33.6" fill="#000" stroke="#fff" stroke-width="0.7">Mo</text>
<path d="M872.5 1601.24L875.99 1601.24L875.99 1558.96L873.42 1558.96Q873.06 1565.47 862.78 1566.16L862.78 1568.82L872.5 1568.82Z" fill="#9D9D9C"/><text transform="translate(887.6 1601.8) scale(0.853 1)" font-size="60.3" fill="#9D9D9C" stroke="#fff" stroke-width="0.6">8</text>
<circle cx="906.05" cy="992.4" r="8.25" fill="#6CB85A"/>
<path d="M902.85 1403.4A8.25 8.25 0 1 1 902.85 1418.6A8.07 8.07 0 0 0 902.85 1403.4Z" fill="#6CB85A"/>
</g>
</g></g>
<rect x="0" y="1644.3" width="2000" height="355.7" fill="#0092B8"/>
<g fill="#fff" stroke="#fff" stroke-width="1.8" stroke-linejoin="round" font-size="81.5">
<text transform="translate(107.02 1800.6) scale(0.7924 1)">Hervorgehobene</text>
<text transform="translate(610.7 1800.6) scale(0.7801 1)">Wochenenden</text>
<text transform="translate(1035.24 1800.6) scale(0.7923 1)">und</text>
<text transform="translate(1162.58 1800.6) scale(0.8202 1)">Feiertage</text>
<text transform="translate(1520.39 1800.6) scale(0.7952 1)">Mondphasen</text>
<text transform="translate(231.8 1899.5) scale(0.7941 1)">Kalenderwochen</text>
<text transform="translate(790.08 1899.5) scale(0.7519 1)">Anzahl</text>
<text transform="translate(999.17 1899.5) scale(0.7793 1)">der</text>
<text transform="translate(1114.21 1899.5) scale(0.8259 1)">regulären</text>
<text transform="translate(1420.15 1899.5) scale(0.8434 1)">Arbeitstage</text>
</g>
<circle cx="1482.8" cy="1772" r="10" fill="#fff"/><circle cx="747" cy="1871" r="10" fill="#fff"/>
</svg>
</body></html>
